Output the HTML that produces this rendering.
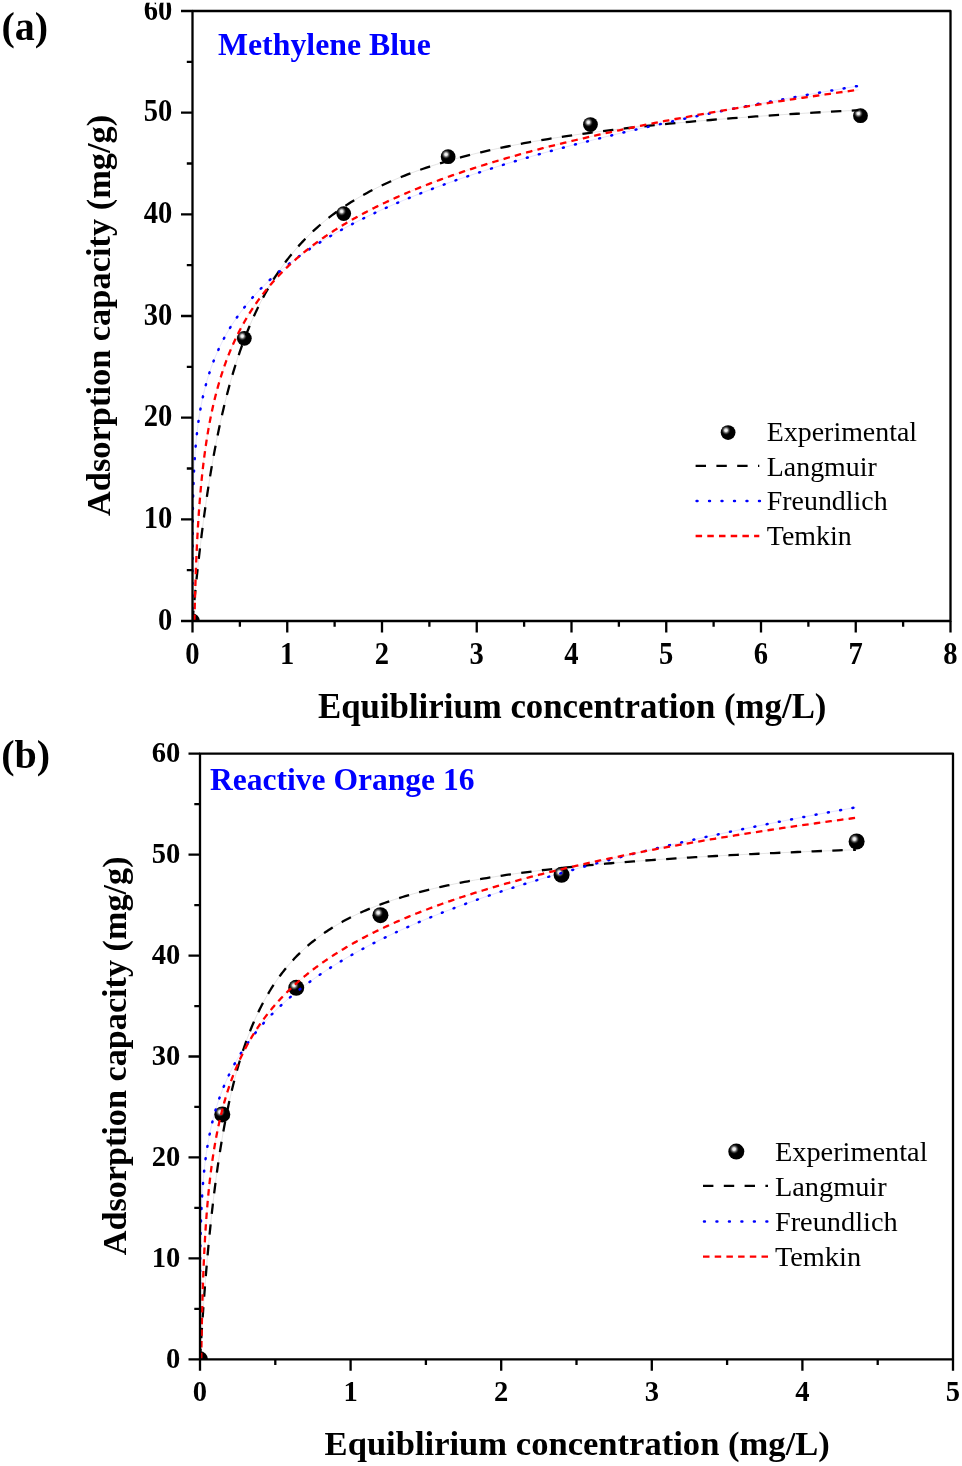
<!DOCTYPE html>
<html><head><meta charset="utf-8"><style>
html,body{margin:0;padding:0;background:#fff;}
svg{display:block;font-family:"Liberation Serif", serif;will-change:transform;}
</style></head><body>
<svg width="962" height="1466" viewBox="0 0 962 1466">
<defs>
<radialGradient id="hl" cx="0.5" cy="0.5" r="0.5">
<stop offset="0" stop-color="#fff" stop-opacity="1"/><stop offset="0.3" stop-color="#e8e8e8" stop-opacity="0.95"/><stop offset="0.65" stop-color="#808080" stop-opacity="0.5"/><stop offset="1" stop-color="#000" stop-opacity="0"/>
</radialGradient>
<g id="ball"><circle r="8" fill="#000"/><circle cx="-2.2" cy="-2.5" r="5.2" fill="url(#hl)"/></g>
<g id="balla"><circle r="7.4" fill="#000"/><circle cx="-2.1" cy="-2.3" r="4.9" fill="url(#hl)"/></g>
</defs>
<rect width="962" height="1466" fill="#fff"/>
<clipPath id="aclip"><rect x="192.5" y="11" width="758.0" height="610"/></clipPath>
<g clip-path="url(#aclip)" fill="none" stroke-linecap="butt"><path d="M192.51,620.89 L192.56,620.30 L192.62,619.68 L192.67,619.08 L192.73,618.46 L192.79,617.83 L192.84,617.21 L192.90,616.58 L192.96,615.93 L193.02,615.26 L193.08,614.59 L193.14,613.94 L193.20,613.33 L193.26,612.67 L193.32,611.96 L193.38,611.32 L193.45,610.63 L193.51,609.90 L193.57,609.27 L193.63,608.61 L193.70,607.92 L193.77,607.19 L193.84,606.42 L193.90,605.81 L193.96,605.18 L194.02,604.52 L194.09,603.84 L194.15,603.13 L194.22,602.39 L194.30,601.63 L194.37,600.83 L194.45,600.00 L194.54,599.14 L194.62,598.24 L194.69,597.63 L194.75,597.00 L194.81,596.35 L194.88,595.68 L194.94,595.00 L195.01,594.30 L195.08,593.58 L195.16,592.85 L195.23,592.09 L195.31,591.32 L195.39,590.52 L195.47,589.71 L195.55,588.88 L195.64,588.02 L195.73,587.15 L195.82,586.25 L195.91,585.33 L196.01,584.39 L196.11,583.42 L196.21,582.44 L196.32,581.42 L196.43,580.39 L196.54,579.32 L196.65,578.24 L196.77,577.12 L196.89,575.98 L197.01,574.82 L197.14,573.62 L197.21,573.02 L197.27,572.40 L197.34,571.78 L197.41,571.15 L197.48,570.52 L197.55,569.87 L197.62,569.22 L197.69,568.57 L197.76,567.90 L197.84,567.23 L197.91,566.55 L197.99,565.86 L198.06,565.16 L198.14,564.46 L198.22,563.75 L198.30,563.03 L198.38,562.30 L198.47,561.57 L198.55,560.82 L198.63,560.07 L198.72,559.31 L198.81,558.54 L198.90,557.77 L198.99,556.98 L199.08,556.19 L199.17,555.39 L199.26,554.58 L199.36,553.76 L199.46,552.93 L199.55,552.10 L199.65,551.25 L199.75,550.40 L199.85,549.53 L199.96,548.66 L200.06,547.78 L200.17,546.89 L200.28,545.99 L200.39,545.09 L200.50,544.17 L200.61,543.24 L200.72,542.31 L200.84,541.36 L200.96,540.41 L201.07,539.44 L201.20,538.47 L201.32,537.49 L201.44,536.50 L201.57,535.49 L201.69,534.48 L201.82,533.46 L201.95,532.43 L202.09,531.39 L202.22,530.34 L202.36,529.28 L202.50,528.21 L202.64,527.13 L202.78,526.03 L202.92,524.93 L203.07,523.82 L203.22,522.70 L203.37,521.57 L203.52,520.43 L203.68,519.28 L203.83,518.12 L203.99,516.95 L204.16,515.77 L204.32,514.58 L204.48,513.37 L204.65,512.16 L204.82,510.94 L205.00,509.71 L205.17,508.47 L205.35,507.21 L205.53,505.95 L205.71,504.68 L205.90,503.39 L206.09,502.10 L206.28,500.79 L206.47,499.48 L206.67,498.15 L206.87,496.82 L207.07,495.47 L207.27,494.12 L207.48,492.75 L207.69,491.38 L207.91,489.99 L208.12,488.59 L208.34,487.19 L208.56,485.77 L208.79,484.35 L209.02,482.91 L209.25,481.46 L209.49,480.01 L209.72,478.54 L209.97,477.06 L210.21,475.58 L210.46,474.08 L210.71,472.58 L210.97,471.06 L211.23,469.54 L211.49,468.00 L211.76,466.46 L212.03,464.91 L212.30,463.34 L212.58,461.77 L212.86,460.19 L213.15,458.60 L213.44,457.00 L213.73,455.39 L214.03,453.77 L214.34,452.15 L214.64,450.51 L214.95,448.87 L215.27,447.22 L215.59,445.56 L215.91,443.89 L216.24,442.21 L216.57,440.53 L216.91,438.83 L217.26,437.13 L217.60,435.42 L217.96,433.71 L218.31,431.98 L218.68,430.25 L219.04,428.51 L219.42,426.76 L219.80,425.01 L220.18,423.25 L220.57,421.48 L220.96,419.71 L221.36,417.93 L221.77,416.14 L222.18,414.35 L222.60,412.55 L223.02,410.74 L223.45,408.93 L223.88,407.11 L224.32,405.29 L224.77,403.46 L225.22,401.63 L225.68,399.79 L226.15,397.94 L226.62,396.09 L227.10,394.24 L227.59,392.38 L228.08,390.52 L228.58,388.65 L229.09,386.78 L229.60,384.91 L230.12,383.03 L230.65,381.15 L231.19,379.27 L231.73,377.38 L232.28,375.49 L232.84,373.60 L233.41,371.70 L233.98,369.80 L234.56,367.90 L235.16,366.00 L235.75,364.09 L236.36,362.19 L236.98,360.28 L237.60,358.37 L238.24,356.46 L238.88,354.55 L239.53,352.64 L240.19,350.73 L240.86,348.81 L241.54,346.90 L242.23,344.99 L242.93,343.07 L243.64,341.16 L244.36,339.25 L245.08,337.34 L245.82,335.43 L246.57,333.52 L247.33,331.61 L248.10,329.71 L248.88,327.80 L249.67,325.90 L250.48,324.00 L251.29,322.10 L252.12,320.20 L252.96,318.31 L253.81,316.42 L254.67,314.53 L255.54,312.64 L256.43,310.76 L257.32,308.88 L258.23,307.01 L259.16,305.14 L260.09,303.27 L261.04,301.41 L262.01,299.55 L262.98,297.70 L263.97,295.85 L264.98,294.00 L266.00,292.16 L267.03,290.33 L268.08,288.50 L269.14,286.68 L270.21,284.86 L271.31,283.04 L272.41,281.24 L273.53,279.44 L274.67,277.64 L275.83,275.85 L277.00,274.07 L278.19,272.30 L279.39,270.53 L280.61,268.77 L281.85,267.01 L283.10,265.26 L284.38,263.52 L285.67,261.79 L286.98,260.07 L288.30,258.35 L289.65,256.64 L291.01,254.93 L292.40,253.24 L293.80,251.55 L295.22,249.88 L296.67,248.21 L298.13,246.54 L299.61,244.89 L301.12,243.25 L302.64,241.61 L304.19,239.98 L305.76,238.36 L307.35,236.75 L308.97,235.15 L310.60,233.56 L312.26,231.98 L313.94,230.41 L315.65,228.84 L317.38,227.29 L319.13,225.74 L320.91,224.21 L322.72,222.68 L324.55,221.16 L326.40,219.66 L328.28,218.16 L330.19,216.67 L332.12,215.19 L334.09,213.73 L336.07,212.27 L338.09,210.82 L340.14,209.38 L342.21,207.95 L344.31,206.54 L346.45,205.13 L348.61,203.73 L350.80,202.34 L353.03,200.97 L355.28,199.60 L357.57,198.24 L359.89,196.89 L362.24,195.56 L364.62,194.23 L367.04,192.92 L369.49,191.61 L371.98,190.31 L374.50,189.03 L377.06,187.75 L379.65,186.49 L382.28,185.23 L384.95,183.99 L387.65,182.76 L390.39,181.53 L393.17,180.32 L395.99,179.12 L398.85,177.92 L401.75,176.74 L404.69,175.57 L407.67,174.40 L410.69,173.25 L413.76,172.11 L416.87,170.98 L420.02,169.86 L423.21,168.74 L426.46,167.64 L429.74,166.55 L433.07,165.47 L436.45,164.40 L439.88,163.33 L443.36,162.28 L446.88,161.24 L450.45,160.21 L454.08,159.18 L457.75,158.17 L461.48,157.17 L465.26,156.17 L469.09,155.19 L472.98,154.21 L476.92,153.25 L480.91,152.29 L484.96,151.35 L489.07,150.41 L493.24,149.48 L497.46,148.56 L501.75,147.65 L506.09,146.75 L510.50,145.86 L514.96,144.98 L519.50,144.11 L524.09,143.24 L528.75,142.39 L533.47,141.54 L538.26,140.70 L543.12,139.88 L548.04,139.05 L553.04,138.24 L558.10,137.44 L563.24,136.65 L568.45,135.86 L573.73,135.08 L579.09,134.31 L584.52,133.55 L590.02,132.80 L595.61,132.06 L601.27,131.32 L607.01,130.59 L612.84,129.87 L618.74,129.16 L624.73,128.45 L630.80,127.76 L636.96,127.07 L643.20,126.38 L649.54,125.71 L655.96,125.04 L662.47,124.39 L669.07,123.73 L675.76,123.09 L682.55,122.45 L689.44,121.82 L696.42,121.20 L703.50,120.58 L710.68,119.98 L717.96,119.38 L725.34,118.78 L732.82,118.19 L740.41,117.61 L748.11,117.04 L755.92,116.47 L763.83,115.91 L771.86,115.36 L780.00,114.81 L788.25,114.27 L796.62,113.73 L805.11,113.20 L813.71,112.68 L822.44,112.16 L831.29,111.65 L840.26,111.15 L849.36,110.65 L858.59,110.16" stroke="#d8d8d8" stroke-width="0.7"/><path d="M192.50,608.79 L192.50,608.13 L192.50,607.51 L192.50,606.86 L192.50,606.25 L192.50,605.60 L192.50,604.94 L192.50,604.32 L192.50,603.67 L192.50,603.01 L192.50,602.40 L192.50,601.78 L192.50,601.13 L192.50,600.46 L192.50,599.77 L192.50,599.16 L192.50,598.53 L192.50,597.89 L192.50,597.22 L192.50,596.54 L192.50,595.83 L192.50,595.23 L192.50,594.62 L192.50,593.99 L192.50,593.34 L192.50,592.68 L192.50,592.00 L192.50,591.31 L192.50,590.60 L192.50,589.87 L192.50,589.13 L192.50,588.52 L192.50,587.90 L192.50,587.27 L192.50,586.63 L192.50,585.97 L192.50,585.30 L192.50,584.62 L192.50,583.93 L192.50,583.22 L192.50,582.50 L192.50,581.76 L192.50,581.02 L192.50,580.25 L192.50,579.48 L192.50,578.68 L192.50,578.08 L192.50,577.47 L192.50,576.84 L192.50,576.21 L192.51,575.57 L192.51,574.93 L192.51,574.27 L192.51,573.60 L192.51,572.92 L192.51,572.24 L192.51,571.54 L192.51,570.84 L192.51,570.12 L192.51,569.39 L192.51,568.66 L192.51,567.91 L192.51,567.15 L192.51,566.38 L192.51,565.60 L192.51,564.81 L192.51,564.01 L192.52,563.20 L192.52,562.37 L192.52,561.54 L192.52,560.69 L192.52,559.83 L192.52,558.95 L192.52,558.07 L192.53,557.17 L192.53,556.56 L192.53,555.95 L192.53,555.33 L192.53,554.71 L192.53,554.08 L192.53,553.44 L192.54,552.80 L192.54,552.16 L192.54,551.50 L192.54,550.84 L192.54,550.18 L192.54,549.50 L192.55,548.82 L192.55,548.14 L192.55,547.45 L192.55,546.75 L192.56,546.04 L192.56,545.33 L192.56,544.61 L192.56,543.89 L192.57,543.16 L192.57,542.42 L192.57,541.67 L192.58,540.92 L192.58,540.16 L192.58,539.39 L192.59,538.62 L192.59,537.83 L192.60,537.04 L192.60,536.25 L192.60,535.44 L192.61,534.63 L192.61,533.81 L192.62,532.98 L192.62,532.15 L192.63,531.30 L192.64,530.45 L192.64,529.59 L192.65,528.72 L192.66,527.85 L192.66,526.96 L192.67,526.07 L192.68,525.17 L192.69,524.26 L192.70,523.34 L192.71,522.41 L192.71,521.48 L192.72,520.53 L192.73,519.58 L192.75,518.61 L192.76,517.64 L192.77,516.66 L192.78,515.67 L192.79,514.67 L192.81,513.66 L192.82,512.64 L192.84,511.61 L192.85,510.57 L192.87,509.53 L192.89,508.47 L192.90,507.40 L192.92,506.32 L192.94,505.23 L192.96,504.13 L192.98,503.02 L193.01,501.90 L193.03,500.77 L193.05,499.63 L193.08,498.48 L193.11,497.32 L193.13,496.14 L193.16,494.96 L193.19,493.76 L193.21,493.16 L193.23,492.55 L193.24,491.94 L193.26,491.33 L193.28,490.72 L193.30,490.10 L193.31,489.48 L193.33,488.86 L193.35,488.23 L193.37,487.60 L193.39,486.97 L193.41,486.34 L193.43,485.70 L193.45,485.06 L193.47,484.41 L193.50,483.77 L193.52,483.12 L193.54,482.46 L193.57,481.81 L193.59,481.15 L193.62,480.49 L193.64,479.82 L193.67,479.15 L193.69,478.48 L193.72,477.81 L193.75,477.13 L193.78,476.45 L193.81,475.76 L193.84,475.07 L193.87,474.38 L193.90,473.69 L193.93,472.99 L193.96,472.29 L194.00,471.58 L194.03,470.88 L194.07,470.17 L194.10,469.45 L194.14,468.73 L194.18,468.01 L194.21,467.29 L194.25,466.56 L194.29,465.83 L194.33,465.09 L194.38,464.36 L194.42,463.61 L194.46,462.87 L194.51,462.12 L194.55,461.37 L194.60,460.61 L194.65,459.85 L194.70,459.09 L194.75,458.32 L194.80,457.55 L194.85,456.78 L194.91,456.00 L194.96,455.22 L195.02,454.43 L195.07,453.64 L195.13,452.85 L195.19,452.05 L195.25,451.25 L195.32,450.45 L195.38,449.64 L195.45,448.83 L195.51,448.02 L195.58,447.20 L195.65,446.37 L195.73,445.55 L195.80,444.72 L195.88,443.88 L195.95,443.04 L196.03,442.20 L196.11,441.35 L196.19,440.50 L196.28,439.65 L196.37,438.79 L196.45,437.92 L196.54,437.06 L196.64,436.19 L196.73,435.31 L196.83,434.43 L196.93,433.55 L197.03,432.66 L197.13,431.77 L197.24,430.87 L197.34,429.97 L197.46,429.07 L197.57,428.16 L197.68,427.24 L197.80,426.33 L197.92,425.40 L198.05,424.48 L198.17,423.55 L198.30,422.61 L198.44,421.67 L198.57,420.73 L198.71,419.78 L198.85,418.83 L199.00,417.87 L199.15,416.91 L199.30,415.94 L199.45,414.97 L199.61,413.99 L199.77,413.01 L199.94,412.03 L200.11,411.04 L200.28,410.04 L200.46,409.05 L200.64,408.04 L200.83,407.03 L201.02,406.02 L201.21,405.00 L201.41,403.98 L201.62,402.95 L201.83,401.92 L202.04,400.88 L202.26,399.84 L202.48,398.79 L202.71,397.74 L202.94,396.68 L203.18,395.62 L203.42,394.55 L203.67,393.48 L203.93,392.40 L204.19,391.32 L204.46,390.23 L204.73,389.14 L205.01,388.04 L205.29,386.94 L205.59,385.83 L205.89,384.71 L206.19,383.60 L206.50,382.47 L206.82,381.34 L207.15,380.21 L207.49,379.07 L207.83,377.92 L208.18,376.77 L208.54,375.61 L208.90,374.45 L209.28,373.28 L209.66,372.11 L210.05,370.93 L210.45,369.75 L210.86,368.56 L211.28,367.36 L211.71,366.16 L212.15,364.95 L212.60,363.74 L213.06,362.52 L213.53,361.30 L214.01,360.07 L214.50,358.83 L215.00,357.59 L215.52,356.34 L216.04,355.09 L216.58,353.83 L217.13,352.56 L217.69,351.29 L218.27,350.02 L218.86,348.73 L219.46,347.44 L220.07,346.15 L220.70,344.85 L221.35,343.54 L222.01,342.22 L222.68,340.90 L223.37,339.58 L224.08,338.24 L224.80,336.90 L225.54,335.56 L226.29,334.21 L227.06,332.85 L227.85,331.48 L228.66,330.11 L229.48,328.74 L230.33,327.35 L231.19,325.96 L232.08,324.56 L232.98,323.16 L233.91,321.75 L234.85,320.33 L235.82,318.91 L236.81,317.48 L237.82,316.04 L238.86,314.59 L239.92,313.14 L241.00,311.69 L242.11,310.22 L243.24,308.75 L244.40,307.27 L245.58,305.78 L246.80,304.29 L248.04,302.79 L249.31,301.28 L250.60,299.77 L251.93,298.25 L253.29,296.72 L254.68,295.18 L256.10,293.64 L257.55,292.09 L259.03,290.53 L260.55,288.97 L262.11,287.40 L263.70,285.82 L265.33,284.23 L266.99,282.63 L268.69,281.03 L270.43,279.42 L272.21,277.80 L274.03,276.18 L275.89,274.54 L277.80,272.90 L279.75,271.25 L281.74,269.60 L283.78,267.93 L285.86,266.26 L288.00,264.58 L290.18,262.89 L292.41,261.20 L294.69,259.49 L297.03,257.78 L299.41,256.06 L301.86,254.33 L304.35,252.60 L306.91,250.85 L309.52,249.10 L312.19,247.34 L314.93,245.57 L317.73,243.79 L320.59,242.00 L323.51,240.21 L326.50,238.41 L329.56,236.59 L332.70,234.77 L335.90,232.94 L339.17,231.11 L342.52,229.26 L345.95,227.40 L349.46,225.54 L353.04,223.67 L356.71,221.78 L360.46,219.89 L364.30,217.99 L368.22,216.09 L372.23,214.17 L376.34,212.24 L380.54,210.31 L384.83,208.36 L389.23,206.41 L393.72,204.44 L398.32,202.47 L403.02,200.49 L407.83,198.50 L412.75,196.50 L417.78,194.48 L422.92,192.46 L428.19,190.44 L433.57,188.40 L439.08,186.35 L444.71,184.29 L450.47,182.22 L456.36,180.14 L462.39,178.05 L468.55,175.96 L474.86,173.85 L481.31,171.73 L487.91,169.60 L494.66,167.47 L501.56,165.32 L508.62,163.16 L515.84,160.99 L523.22,158.81 L530.78,156.62 L538.51,154.42 L546.41,152.21 L554.49,149.99 L562.76,147.76 L571.22,145.52 L579.87,143.27 L588.72,141.01 L597.77,138.73 L607.03,136.45 L616.49,134.16 L626.18,131.85 L636.09,129.53 L646.22,127.21 L656.58,124.87 L667.18,122.52 L678.03,120.16 L689.12,117.78 L700.46,115.40 L712.06,113.01 L723.93,110.60 L736.07,108.18 L748.49,105.75 L761.19,103.31 L774.18,100.86 L787.46,98.40 L801.05,95.92 L814.96,93.44 L829.17,90.94 L843.72,88.43 L858.59,85.91" stroke="#d8d8ff" stroke-width="0.7"/><path d="M194.43,621.00 L194.45,620.34 L194.46,619.67 L194.48,619.01 L194.49,618.34 L194.51,617.68 L194.52,617.02 L194.54,616.35 L194.55,615.69 L194.57,615.02 L194.58,614.36 L194.60,613.70 L194.61,613.03 L194.63,612.37 L194.64,611.70 L194.66,611.04 L194.67,610.38 L194.69,609.71 L194.71,609.05 L194.72,608.38 L194.74,607.72 L194.75,607.06 L194.77,606.39 L194.79,605.73 L194.80,605.06 L194.82,604.40 L194.84,603.74 L194.86,603.07 L194.87,602.41 L194.89,601.74 L194.91,601.08 L194.92,600.42 L194.94,599.75 L194.96,599.09 L194.98,598.42 L195.00,597.76 L195.02,597.10 L195.03,596.43 L195.05,595.77 L195.07,595.10 L195.09,594.44 L195.11,593.78 L195.13,593.11 L195.15,592.45 L195.17,591.78 L195.19,591.12 L195.21,590.45 L195.23,589.79 L195.25,589.13 L195.27,588.46 L195.29,587.80 L195.31,587.13 L195.33,586.47 L195.35,585.81 L195.37,585.14 L195.39,584.48 L195.41,583.81 L195.43,583.15 L195.45,582.49 L195.48,581.82 L195.50,581.16 L195.52,580.49 L195.54,579.83 L195.56,579.17 L195.59,578.50 L195.61,577.84 L195.63,577.17 L195.65,576.51 L195.68,575.85 L195.70,575.18 L195.72,574.52 L195.75,573.85 L195.77,573.19 L195.80,572.53 L195.82,571.86 L195.84,571.20 L195.87,570.53 L195.89,569.87 L195.92,569.21 L195.94,568.54 L195.97,567.88 L195.99,567.21 L196.02,566.55 L196.04,565.89 L196.07,565.22 L196.10,564.56 L196.12,563.89 L196.15,563.23 L196.18,562.57 L196.20,561.90 L196.23,561.24 L196.26,560.57 L196.29,559.91 L196.31,559.25 L196.34,558.58 L196.37,557.92 L196.40,557.25 L196.43,556.59 L196.46,555.93 L196.48,555.26 L196.51,554.60 L196.54,553.93 L196.57,553.27 L196.60,552.61 L196.63,551.94 L196.66,551.28 L196.69,550.61 L196.72,549.95 L196.75,549.29 L196.79,548.62 L196.82,547.96 L196.85,547.29 L196.88,546.63 L196.91,545.97 L196.95,545.30 L196.98,544.64 L197.01,543.97 L197.04,543.31 L197.08,542.65 L197.11,541.98 L197.14,541.32 L197.18,540.65 L197.21,539.99 L197.25,539.33 L197.28,538.66 L197.32,538.00 L197.35,537.33 L197.39,536.67 L197.42,536.01 L197.46,535.34 L197.50,534.68 L197.53,534.01 L197.57,533.35 L197.61,532.69 L197.64,532.02 L197.68,531.36 L197.72,530.69 L197.76,530.03 L197.80,529.36 L197.84,528.70 L197.88,528.04 L197.91,527.37 L197.95,526.71 L197.99,526.04 L198.03,525.38 L198.07,524.72 L198.12,524.05 L198.16,523.39 L198.20,522.72 L198.24,522.06 L198.28,521.40 L198.32,520.73 L198.37,520.07 L198.41,519.40 L198.45,518.74 L198.50,518.08 L198.54,517.41 L198.59,516.75 L198.63,516.08 L198.68,515.42 L198.72,514.76 L198.77,514.09 L198.81,513.43 L198.86,512.76 L198.90,512.10 L198.95,511.44 L199.00,510.77 L199.05,510.11 L199.09,509.44 L199.14,508.78 L199.19,508.12 L199.24,507.45 L199.29,506.79 L199.34,506.12 L199.39,505.46 L199.44,504.80 L199.49,504.13 L199.54,503.47 L199.59,502.80 L199.65,502.14 L199.70,501.48 L199.75,500.81 L199.80,500.15 L199.86,499.48 L199.91,498.82 L199.97,498.16 L200.02,497.49 L200.08,496.83 L200.13,496.16 L200.19,495.50 L200.24,494.84 L200.30,494.17 L200.36,493.51 L200.42,492.84 L200.47,492.18 L200.53,491.52 L200.59,490.85 L200.65,490.19 L200.71,489.52 L200.77,488.86 L200.83,488.20 L200.89,487.53 L200.95,486.87 L201.02,486.20 L201.08,485.54 L201.14,484.88 L201.20,484.21 L201.27,483.55 L201.33,482.88 L201.40,482.22 L201.46,481.56 L201.53,480.89 L201.59,480.23 L201.66,479.56 L201.73,478.90 L201.79,478.24 L201.86,477.57 L201.93,476.91 L202.00,476.24 L202.07,475.58 L202.14,474.92 L202.21,474.25 L202.28,473.59 L202.35,472.92 L202.43,472.26 L202.50,471.60 L202.57,470.93 L202.65,470.27 L202.72,469.60 L202.80,468.94 L202.87,468.27 L202.95,467.61 L203.02,466.95 L203.10,466.28 L203.18,465.62 L203.26,464.95 L203.34,464.29 L203.41,463.63 L203.49,462.96 L203.58,462.30 L203.66,461.63 L203.74,460.97 L203.82,460.31 L203.90,459.64 L203.99,458.98 L204.07,458.31 L204.16,457.65 L204.24,456.99 L204.33,456.32 L204.41,455.66 L204.50,454.99 L204.59,454.33 L204.68,453.67 L204.77,453.00 L204.86,452.34 L204.95,451.67 L205.04,451.01 L205.13,450.35 L205.22,449.68 L205.32,449.02 L205.41,448.35 L205.51,447.69 L205.60,447.03 L205.70,446.36 L205.79,445.70 L205.89,445.03 L205.99,444.37 L206.09,443.71 L206.19,443.04 L206.29,442.38 L206.39,441.71 L206.49,441.05 L206.59,440.39 L206.70,439.72 L206.80,439.06 L206.91,438.39 L207.01,437.73 L207.12,437.07 L207.22,436.40 L207.33,435.74 L207.44,435.07 L207.55,434.41 L207.66,433.75 L207.77,433.08 L207.88,432.42 L208.00,431.75 L208.11,431.09 L208.22,430.43 L208.34,429.76 L208.46,429.10 L208.57,428.43 L208.69,427.77 L208.81,427.11 L208.93,426.44 L209.05,425.78 L209.17,425.11 L209.29,424.45 L209.42,423.79 L209.54,423.12 L209.66,422.46 L209.79,421.79 L209.92,421.13 L210.05,420.47 L210.17,419.80 L210.30,419.14 L210.43,418.47 L210.57,417.81 L210.70,417.15 L210.83,416.48 L210.97,415.82 L211.10,415.15 L211.24,414.49 L211.37,413.83 L211.51,413.16 L211.65,412.50 L211.79,411.83 L211.93,411.17 L212.08,410.51 L212.22,409.84 L212.36,409.18 L212.51,408.51 L212.66,407.85 L212.80,407.18 L212.95,406.52 L213.10,405.86 L213.25,405.19 L213.41,404.53 L213.56,403.86 L213.71,403.20 L213.87,402.54 L214.03,401.87 L214.18,401.21 L214.34,400.54 L214.50,399.88 L214.66,399.22 L214.83,398.55 L214.99,397.89 L215.15,397.22 L215.32,396.56 L215.49,395.90 L215.66,395.23 L215.83,394.57 L216.00,393.90 L216.17,393.24 L216.34,392.58 L216.52,391.91 L216.69,391.25 L216.87,390.58 L217.05,389.92 L217.23,389.26 L217.41,388.59 L217.59,387.93 L217.78,387.26 L217.96,386.60 L218.15,385.94 L218.34,385.27 L218.53,384.61 L218.72,383.94 L218.91,383.28 L219.10,382.62 L219.30,381.95 L219.49,381.29 L219.69,380.62 L219.89,379.96 L220.09,379.30 L220.29,378.63 L220.50,377.97 L220.70,377.30 L220.91,376.64 L221.12,375.98 L221.33,375.31 L221.54,374.65 L221.75,373.98 L221.97,373.32 L222.18,372.66 L222.40,371.99 L222.62,371.33 L222.84,370.66 L223.06,370.00 L223.29,369.34 L223.51,368.67 L223.74,368.01 L223.97,367.34 L224.20,366.68 L224.43,366.02 L224.67,365.35 L224.90,364.69 L225.14,364.02 L225.38,363.36 L225.62,362.70 L225.86,362.03 L226.11,361.37 L226.35,360.70 L226.60,360.04 L226.85,359.38 L227.10,358.71 L227.36,358.05 L227.61,357.38 L227.87,356.72 L228.13,356.06 L228.39,355.39 L228.65,354.73 L228.92,354.06 L229.18,353.40 L229.45,352.74 L229.72,352.07 L230.00,351.41 L230.27,350.74 L230.55,350.08 L230.83,349.42 L231.11,348.75 L231.39,348.09 L231.68,347.42 L231.96,346.76 L232.25,346.09 L232.54,345.43 L232.84,344.77 L233.13,344.10 L233.43,343.44 L233.73,342.77 L234.03,342.11 L234.34,341.45 L234.64,340.78 L234.95,340.12 L235.26,339.45 L235.58,338.79 L235.89,338.13 L236.21,337.46 L236.53,336.80 L236.85,336.13 L237.18,335.47 L237.51,334.81 L237.84,334.14 L238.17,333.48 L238.50,332.81 L238.84,332.15 L239.18,331.49 L239.52,330.82 L239.87,330.16 L240.21,329.49 L240.56,328.83 L240.92,328.17 L241.27,327.50 L241.63,326.84 L241.99,326.17 L242.35,325.51 L242.72,324.85 L243.08,324.18 L243.46,323.52 L243.83,322.85 L244.20,322.19 L244.58,321.53 L244.97,320.86 L245.35,320.20 L245.74,319.53 L246.13,318.87 L246.52,318.21 L246.92,317.54 L247.32,316.88 L247.72,316.21 L248.12,315.55 L248.53,314.89 L248.94,314.22 L249.35,313.56 L249.77,312.89 L250.19,312.23 L250.61,311.57 L251.04,310.90 L251.47,310.24 L251.90,309.57 L252.34,308.91 L252.77,308.25 L253.22,307.58 L253.66,306.92 L254.11,306.25 L254.56,305.59 L255.02,304.93 L255.47,304.26 L255.94,303.60 L256.40,302.93 L256.87,302.27 L257.34,301.61 L257.82,300.94 L258.29,300.28 L258.78,299.61 L259.26,298.95 L259.75,298.29 L260.24,297.62 L260.74,296.96 L261.24,296.29 L261.74,295.63 L262.25,294.97 L262.76,294.30 L263.28,293.64 L263.80,292.97 L264.32,292.31 L264.85,291.65 L265.38,290.98 L265.91,290.32 L266.45,289.65 L266.99,288.99 L267.54,288.32 L268.09,287.66 L268.64,287.00 L269.20,286.33 L269.76,285.67 L270.33,285.00 L270.90,284.34 L271.47,283.68 L272.05,283.01 L272.63,282.35 L273.22,281.68 L273.81,281.02 L274.41,280.36 L275.01,279.69 L275.61,279.03 L276.22,278.36 L276.84,277.70 L277.45,277.04 L278.08,276.37 L278.70,275.71 L279.34,275.04 L279.97,274.38 L280.61,273.72 L281.26,273.05 L281.91,272.39 L282.57,271.72 L283.23,271.06 L283.89,270.40 L284.56,269.73 L285.24,269.07 L285.92,268.40 L286.60,267.74 L287.29,267.08 L287.98,266.41 L288.68,265.75 L289.39,265.08 L290.10,264.42 L290.81,263.76 L291.54,263.09 L292.26,262.43 L292.99,261.76 L293.73,261.10 L294.47,260.44 L295.22,259.77 L295.97,259.11 L296.73,258.44 L297.49,257.78 L298.26,257.12 L299.04,256.45 L299.82,255.79 L300.61,255.12 L301.40,254.46 L302.20,253.80 L303.00,253.13 L303.81,252.47 L304.63,251.80 L305.45,251.14 L306.27,250.48 L307.11,249.81 L307.95,249.15 L308.79,248.48 L309.65,247.82 L310.51,247.16 L311.37,246.49 L312.24,245.83 L313.12,245.16 L314.00,244.50 L314.89,243.84 L315.79,243.17 L316.69,242.51 L317.61,241.84 L318.52,241.18 L319.45,240.52 L320.38,239.85 L321.31,239.19 L322.26,238.52 L323.21,237.86 L324.17,237.20 L325.13,236.53 L326.10,235.87 L327.08,235.20 L328.07,234.54 L329.06,233.88 L330.06,233.21 L331.07,232.55 L332.09,231.88 L333.11,231.22 L334.14,230.56 L335.18,229.89 L336.22,229.23 L337.28,228.56 L338.34,227.90 L339.41,227.23 L340.49,226.57 L341.57,225.91 L342.66,225.24 L343.76,224.58 L344.87,223.91 L345.99,223.25 L347.11,222.59 L348.25,221.92 L349.39,221.26 L350.54,220.59 L351.70,219.93 L352.86,219.27 L354.04,218.60 L355.22,217.94 L356.41,217.27 L357.62,216.61 L358.83,215.95 L360.05,215.28 L361.27,214.62 L362.51,213.95 L363.76,213.29 L365.01,212.63 L366.28,211.96 L367.55,211.30 L368.83,210.63 L370.12,209.97 L371.43,209.31 L372.74,208.64 L374.06,207.98 L375.39,207.31 L376.73,206.65 L378.08,205.99 L379.44,205.32 L380.81,204.66 L382.19,203.99 L383.58,203.33 L384.98,202.67 L386.39,202.00 L387.81,201.34 L389.25,200.67 L390.69,200.01 L392.14,199.35 L393.60,198.68 L395.08,198.02 L396.56,197.35 L398.06,196.69 L399.56,196.03 L401.08,195.36 L402.61,194.70 L404.15,194.03 L405.70,193.37 L407.26,192.71 L408.84,192.04 L410.42,191.38 L412.02,190.71 L413.63,190.05 L415.25,189.39 L416.88,188.72 L418.53,188.06 L420.18,187.39 L421.85,186.73 L423.53,186.07 L425.23,185.40 L426.93,184.74 L428.65,184.07 L430.38,183.41 L432.13,182.75 L433.88,182.08 L435.65,181.42 L437.43,180.75 L439.23,180.09 L441.04,179.43 L442.86,178.76 L444.69,178.10 L446.54,177.43 L448.40,176.77 L450.28,176.11 L452.17,175.44 L454.07,174.78 L455.99,174.11 L457.92,173.45 L459.87,172.79 L461.82,172.12 L463.80,171.46 L465.79,170.79 L467.79,170.13 L469.81,169.47 L471.84,168.80 L473.89,168.14 L475.95,167.47 L478.03,166.81 L480.12,166.14 L482.23,165.48 L484.35,164.82 L486.49,164.15 L488.65,163.49 L490.82,162.82 L493.00,162.16 L495.20,161.50 L497.42,160.83 L499.66,160.17 L501.91,159.50 L504.18,158.84 L506.46,158.18 L508.76,157.51 L511.08,156.85 L513.42,156.18 L515.77,155.52 L518.14,154.86 L520.52,154.19 L522.93,153.53 L525.35,152.86 L527.79,152.20 L530.25,151.54 L532.72,150.87 L535.22,150.21 L537.73,149.54 L540.26,148.88 L542.81,148.22 L545.37,147.55 L547.96,146.89 L550.57,146.22 L553.19,145.56 L555.83,144.90 L558.50,144.23 L561.18,143.57 L563.88,142.90 L566.60,142.24 L569.34,141.58 L572.11,140.91 L574.89,140.25 L577.69,139.58 L580.51,138.92 L583.36,138.26 L586.22,137.59 L589.11,136.93 L592.02,136.26 L594.94,135.60 L597.89,134.94 L600.86,134.27 L603.86,133.61 L606.87,132.94 L609.91,132.28 L612.97,131.62 L616.05,130.95 L619.15,130.29 L622.28,129.62 L625.43,128.96 L628.61,128.30 L631.80,127.63 L635.02,126.97 L638.26,126.30 L641.53,125.64 L644.82,124.98 L648.14,124.31 L651.48,123.65 L654.84,122.98 L658.23,122.32 L661.64,121.66 L665.08,120.99 L668.55,120.33 L672.03,119.66 L675.55,119.00 L679.09,118.34 L682.66,117.67 L686.25,117.01 L689.87,116.34 L693.51,115.68 L697.18,115.02 L700.88,114.35 L704.61,113.69 L708.36,113.02 L712.14,112.36 L715.95,111.70 L719.79,111.03 L723.65,110.37 L727.55,109.70 L731.47,109.04 L735.42,108.38 L739.40,107.71 L743.41,107.05 L747.44,106.38 L751.51,105.72 L755.61,105.05 L759.73,104.39 L763.89,103.73 L768.08,103.06 L772.30,102.40 L776.55,101.73 L780.83,101.07 L785.14,100.41 L789.48,99.74 L793.86,99.08 L798.27,98.41 L802.71,97.75 L807.18,97.09 L811.68,96.42 L816.22,95.76 L820.79,95.09 L825.40,94.43 L830.04,93.77 L834.71,93.10 L839.42,92.44 L844.16,91.77 L848.93,91.11 L853.75,90.45 L858.59,89.78" stroke="#ffd8d8" stroke-width="0.7"/></g>
<g clip-path="url(#aclip)"><use href="#balla" x="192.50" y="621.00"/><use href="#balla" x="244.33" y="338.37"/><use href="#balla" x="343.72" y="213.62"/><use href="#balla" x="448.14" y="156.69"/><use href="#balla" x="590.45" y="124.56"/><use href="#balla" x="860.49" y="115.72"/></g>
<g clip-path="url(#aclip)" fill="none" stroke-linecap="butt"><path d="M192.51,620.89 L192.56,620.30 L192.62,619.68 L192.67,619.08 L192.73,618.46 L192.79,617.83 L192.84,617.21 L192.90,616.58 L192.96,615.93 L193.02,615.26 L193.08,614.59 L193.14,613.94 L193.20,613.33 L193.26,612.67 L193.32,611.96 L193.38,611.32 L193.45,610.63 L193.51,609.90 L193.57,609.27 L193.63,608.61 L193.70,607.92 L193.77,607.19 L193.84,606.42 L193.90,605.81 L193.96,605.18 L194.02,604.52 L194.09,603.84 L194.15,603.13 L194.22,602.39 L194.30,601.63 L194.37,600.83 L194.45,600.00 L194.54,599.14 L194.62,598.24 L194.69,597.63 L194.75,597.00 L194.81,596.35 L194.88,595.68 L194.94,595.00 L195.01,594.30 L195.08,593.58 L195.16,592.85 L195.23,592.09 L195.31,591.32 L195.39,590.52 L195.47,589.71 L195.55,588.88 L195.64,588.02 L195.73,587.15 L195.82,586.25 L195.91,585.33 L196.01,584.39 L196.11,583.42 L196.21,582.44 L196.32,581.42 L196.43,580.39 L196.54,579.32 L196.65,578.24 L196.77,577.12 L196.89,575.98 L197.01,574.82 L197.14,573.62 L197.21,573.02 L197.27,572.40 L197.34,571.78 L197.41,571.15 L197.48,570.52 L197.55,569.87 L197.62,569.22 L197.69,568.57 L197.76,567.90 L197.84,567.23 L197.91,566.55 L197.99,565.86 L198.06,565.16 L198.14,564.46 L198.22,563.75 L198.30,563.03 L198.38,562.30 L198.47,561.57 L198.55,560.82 L198.63,560.07 L198.72,559.31 L198.81,558.54 L198.90,557.77 L198.99,556.98 L199.08,556.19 L199.17,555.39 L199.26,554.58 L199.36,553.76 L199.46,552.93 L199.55,552.10 L199.65,551.25 L199.75,550.40 L199.85,549.53 L199.96,548.66 L200.06,547.78 L200.17,546.89 L200.28,545.99 L200.39,545.09 L200.50,544.17 L200.61,543.24 L200.72,542.31 L200.84,541.36 L200.96,540.41 L201.07,539.44 L201.20,538.47 L201.32,537.49 L201.44,536.50 L201.57,535.49 L201.69,534.48 L201.82,533.46 L201.95,532.43 L202.09,531.39 L202.22,530.34 L202.36,529.28 L202.50,528.21 L202.64,527.13 L202.78,526.03 L202.92,524.93 L203.07,523.82 L203.22,522.70 L203.37,521.57 L203.52,520.43 L203.68,519.28 L203.83,518.12 L203.99,516.95 L204.16,515.77 L204.32,514.58 L204.48,513.37 L204.65,512.16 L204.82,510.94 L205.00,509.71 L205.17,508.47 L205.35,507.21 L205.53,505.95 L205.71,504.68 L205.90,503.39 L206.09,502.10 L206.28,500.79 L206.47,499.48 L206.67,498.15 L206.87,496.82 L207.07,495.47 L207.27,494.12 L207.48,492.75 L207.69,491.38 L207.91,489.99 L208.12,488.59 L208.34,487.19 L208.56,485.77 L208.79,484.35 L209.02,482.91 L209.25,481.46 L209.49,480.01 L209.72,478.54 L209.97,477.06 L210.21,475.58 L210.46,474.08 L210.71,472.58 L210.97,471.06 L211.23,469.54 L211.49,468.00 L211.76,466.46 L212.03,464.91 L212.30,463.34 L212.58,461.77 L212.86,460.19 L213.15,458.60 L213.44,457.00 L213.73,455.39 L214.03,453.77 L214.34,452.15 L214.64,450.51 L214.95,448.87 L215.27,447.22 L215.59,445.56 L215.91,443.89 L216.24,442.21 L216.57,440.53 L216.91,438.83 L217.26,437.13 L217.60,435.42 L217.96,433.71 L218.31,431.98 L218.68,430.25 L219.04,428.51 L219.42,426.76 L219.80,425.01 L220.18,423.25 L220.57,421.48 L220.96,419.71 L221.36,417.93 L221.77,416.14 L222.18,414.35 L222.60,412.55 L223.02,410.74 L223.45,408.93 L223.88,407.11 L224.32,405.29 L224.77,403.46 L225.22,401.63 L225.68,399.79 L226.15,397.94 L226.62,396.09 L227.10,394.24 L227.59,392.38 L228.08,390.52 L228.58,388.65 L229.09,386.78 L229.60,384.91 L230.12,383.03 L230.65,381.15 L231.19,379.27 L231.73,377.38 L232.28,375.49 L232.84,373.60 L233.41,371.70 L233.98,369.80 L234.56,367.90 L235.16,366.00 L235.75,364.09 L236.36,362.19 L236.98,360.28 L237.60,358.37 L238.24,356.46 L238.88,354.55 L239.53,352.64 L240.19,350.73 L240.86,348.81 L241.54,346.90 L242.23,344.99 L242.93,343.07 L243.64,341.16 L244.36,339.25 L245.08,337.34 L245.82,335.43 L246.57,333.52 L247.33,331.61 L248.10,329.71 L248.88,327.80 L249.67,325.90 L250.48,324.00 L251.29,322.10 L252.12,320.20 L252.96,318.31 L253.81,316.42 L254.67,314.53 L255.54,312.64 L256.43,310.76 L257.32,308.88 L258.23,307.01 L259.16,305.14 L260.09,303.27 L261.04,301.41 L262.01,299.55 L262.98,297.70 L263.97,295.85 L264.98,294.00 L266.00,292.16 L267.03,290.33 L268.08,288.50 L269.14,286.68 L270.21,284.86 L271.31,283.04 L272.41,281.24 L273.53,279.44 L274.67,277.64 L275.83,275.85 L277.00,274.07 L278.19,272.30 L279.39,270.53 L280.61,268.77 L281.85,267.01 L283.10,265.26 L284.38,263.52 L285.67,261.79 L286.98,260.07 L288.30,258.35 L289.65,256.64 L291.01,254.93 L292.40,253.24 L293.80,251.55 L295.22,249.88 L296.67,248.21 L298.13,246.54 L299.61,244.89 L301.12,243.25 L302.64,241.61 L304.19,239.98 L305.76,238.36 L307.35,236.75 L308.97,235.15 L310.60,233.56 L312.26,231.98 L313.94,230.41 L315.65,228.84 L317.38,227.29 L319.13,225.74 L320.91,224.21 L322.72,222.68 L324.55,221.16 L326.40,219.66 L328.28,218.16 L330.19,216.67 L332.12,215.19 L334.09,213.73 L336.07,212.27 L338.09,210.82 L340.14,209.38 L342.21,207.95 L344.31,206.54 L346.45,205.13 L348.61,203.73 L350.80,202.34 L353.03,200.97 L355.28,199.60 L357.57,198.24 L359.89,196.89 L362.24,195.56 L364.62,194.23 L367.04,192.92 L369.49,191.61 L371.98,190.31 L374.50,189.03 L377.06,187.75 L379.65,186.49 L382.28,185.23 L384.95,183.99 L387.65,182.76 L390.39,181.53 L393.17,180.32 L395.99,179.12 L398.85,177.92 L401.75,176.74 L404.69,175.57 L407.67,174.40 L410.69,173.25 L413.76,172.11 L416.87,170.98 L420.02,169.86 L423.21,168.74 L426.46,167.64 L429.74,166.55 L433.07,165.47 L436.45,164.40 L439.88,163.33 L443.36,162.28 L446.88,161.24 L450.45,160.21 L454.08,159.18 L457.75,158.17 L461.48,157.17 L465.26,156.17 L469.09,155.19 L472.98,154.21 L476.92,153.25 L480.91,152.29 L484.96,151.35 L489.07,150.41 L493.24,149.48 L497.46,148.56 L501.75,147.65 L506.09,146.75 L510.50,145.86 L514.96,144.98 L519.50,144.11 L524.09,143.24 L528.75,142.39 L533.47,141.54 L538.26,140.70 L543.12,139.88 L548.04,139.05 L553.04,138.24 L558.10,137.44 L563.24,136.65 L568.45,135.86 L573.73,135.08 L579.09,134.31 L584.52,133.55 L590.02,132.80 L595.61,132.06 L601.27,131.32 L607.01,130.59 L612.84,129.87 L618.74,129.16 L624.73,128.45 L630.80,127.76 L636.96,127.07 L643.20,126.38 L649.54,125.71 L655.96,125.04 L662.47,124.39 L669.07,123.73 L675.76,123.09 L682.55,122.45 L689.44,121.82 L696.42,121.20 L703.50,120.58 L710.68,119.98 L717.96,119.38 L725.34,118.78 L732.82,118.19 L740.41,117.61 L748.11,117.04 L755.92,116.47 L763.83,115.91 L771.86,115.36 L780.00,114.81 L788.25,114.27 L796.62,113.73 L805.11,113.20 L813.71,112.68 L822.44,112.16 L831.29,111.65 L840.26,111.15 L849.36,110.65 L858.59,110.16" stroke="#000" stroke-width="2.3" stroke-dasharray="10.4 10.4"/><path d="M192.50,608.79 L192.50,608.13 L192.50,607.51 L192.50,606.86 L192.50,606.25 L192.50,605.60 L192.50,604.94 L192.50,604.32 L192.50,603.67 L192.50,603.01 L192.50,602.40 L192.50,601.78 L192.50,601.13 L192.50,600.46 L192.50,599.77 L192.50,599.16 L192.50,598.53 L192.50,597.89 L192.50,597.22 L192.50,596.54 L192.50,595.83 L192.50,595.23 L192.50,594.62 L192.50,593.99 L192.50,593.34 L192.50,592.68 L192.50,592.00 L192.50,591.31 L192.50,590.60 L192.50,589.87 L192.50,589.13 L192.50,588.52 L192.50,587.90 L192.50,587.27 L192.50,586.63 L192.50,585.97 L192.50,585.30 L192.50,584.62 L192.50,583.93 L192.50,583.22 L192.50,582.50 L192.50,581.76 L192.50,581.02 L192.50,580.25 L192.50,579.48 L192.50,578.68 L192.50,578.08 L192.50,577.47 L192.50,576.84 L192.50,576.21 L192.51,575.57 L192.51,574.93 L192.51,574.27 L192.51,573.60 L192.51,572.92 L192.51,572.24 L192.51,571.54 L192.51,570.84 L192.51,570.12 L192.51,569.39 L192.51,568.66 L192.51,567.91 L192.51,567.15 L192.51,566.38 L192.51,565.60 L192.51,564.81 L192.51,564.01 L192.52,563.20 L192.52,562.37 L192.52,561.54 L192.52,560.69 L192.52,559.83 L192.52,558.95 L192.52,558.07 L192.53,557.17 L192.53,556.56 L192.53,555.95 L192.53,555.33 L192.53,554.71 L192.53,554.08 L192.53,553.44 L192.54,552.80 L192.54,552.16 L192.54,551.50 L192.54,550.84 L192.54,550.18 L192.54,549.50 L192.55,548.82 L192.55,548.14 L192.55,547.45 L192.55,546.75 L192.56,546.04 L192.56,545.33 L192.56,544.61 L192.56,543.89 L192.57,543.16 L192.57,542.42 L192.57,541.67 L192.58,540.92 L192.58,540.16 L192.58,539.39 L192.59,538.62 L192.59,537.83 L192.60,537.04 L192.60,536.25 L192.60,535.44 L192.61,534.63 L192.61,533.81 L192.62,532.98 L192.62,532.15 L192.63,531.30 L192.64,530.45 L192.64,529.59 L192.65,528.72 L192.66,527.85 L192.66,526.96 L192.67,526.07 L192.68,525.17 L192.69,524.26 L192.70,523.34 L192.71,522.41 L192.71,521.48 L192.72,520.53 L192.73,519.58 L192.75,518.61 L192.76,517.64 L192.77,516.66 L192.78,515.67 L192.79,514.67 L192.81,513.66 L192.82,512.64 L192.84,511.61 L192.85,510.57 L192.87,509.53 L192.89,508.47 L192.90,507.40 L192.92,506.32 L192.94,505.23 L192.96,504.13 L192.98,503.02 L193.01,501.90 L193.03,500.77 L193.05,499.63 L193.08,498.48 L193.11,497.32 L193.13,496.14 L193.16,494.96 L193.19,493.76 L193.21,493.16 L193.23,492.55 L193.24,491.94 L193.26,491.33 L193.28,490.72 L193.30,490.10 L193.31,489.48 L193.33,488.86 L193.35,488.23 L193.37,487.60 L193.39,486.97 L193.41,486.34 L193.43,485.70 L193.45,485.06 L193.47,484.41 L193.50,483.77 L193.52,483.12 L193.54,482.46 L193.57,481.81 L193.59,481.15 L193.62,480.49 L193.64,479.82 L193.67,479.15 L193.69,478.48 L193.72,477.81 L193.75,477.13 L193.78,476.45 L193.81,475.76 L193.84,475.07 L193.87,474.38 L193.90,473.69 L193.93,472.99 L193.96,472.29 L194.00,471.58 L194.03,470.88 L194.07,470.17 L194.10,469.45 L194.14,468.73 L194.18,468.01 L194.21,467.29 L194.25,466.56 L194.29,465.83 L194.33,465.09 L194.38,464.36 L194.42,463.61 L194.46,462.87 L194.51,462.12 L194.55,461.37 L194.60,460.61 L194.65,459.85 L194.70,459.09 L194.75,458.32 L194.80,457.55 L194.85,456.78 L194.91,456.00 L194.96,455.22 L195.02,454.43 L195.07,453.64 L195.13,452.85 L195.19,452.05 L195.25,451.25 L195.32,450.45 L195.38,449.64 L195.45,448.83 L195.51,448.02 L195.58,447.20 L195.65,446.37 L195.73,445.55 L195.80,444.72 L195.88,443.88 L195.95,443.04 L196.03,442.20 L196.11,441.35 L196.19,440.50 L196.28,439.65 L196.37,438.79 L196.45,437.92 L196.54,437.06 L196.64,436.19 L196.73,435.31 L196.83,434.43 L196.93,433.55 L197.03,432.66 L197.13,431.77 L197.24,430.87 L197.34,429.97 L197.46,429.07 L197.57,428.16 L197.68,427.24 L197.80,426.33 L197.92,425.40 L198.05,424.48 L198.17,423.55 L198.30,422.61 L198.44,421.67 L198.57,420.73 L198.71,419.78 L198.85,418.83 L199.00,417.87 L199.15,416.91 L199.30,415.94 L199.45,414.97 L199.61,413.99 L199.77,413.01 L199.94,412.03 L200.11,411.04 L200.28,410.04 L200.46,409.05 L200.64,408.04 L200.83,407.03 L201.02,406.02 L201.21,405.00 L201.41,403.98 L201.62,402.95 L201.83,401.92 L202.04,400.88 L202.26,399.84 L202.48,398.79 L202.71,397.74 L202.94,396.68 L203.18,395.62 L203.42,394.55 L203.67,393.48 L203.93,392.40 L204.19,391.32 L204.46,390.23 L204.73,389.14 L205.01,388.04 L205.29,386.94 L205.59,385.83 L205.89,384.71 L206.19,383.60 L206.50,382.47 L206.82,381.34 L207.15,380.21 L207.49,379.07 L207.83,377.92 L208.18,376.77 L208.54,375.61 L208.90,374.45 L209.28,373.28 L209.66,372.11 L210.05,370.93 L210.45,369.75 L210.86,368.56 L211.28,367.36 L211.71,366.16 L212.15,364.95 L212.60,363.74 L213.06,362.52 L213.53,361.30 L214.01,360.07 L214.50,358.83 L215.00,357.59 L215.52,356.34 L216.04,355.09 L216.58,353.83 L217.13,352.56 L217.69,351.29 L218.27,350.02 L218.86,348.73 L219.46,347.44 L220.07,346.15 L220.70,344.85 L221.35,343.54 L222.01,342.22 L222.68,340.90 L223.37,339.58 L224.08,338.24 L224.80,336.90 L225.54,335.56 L226.29,334.21 L227.06,332.85 L227.85,331.48 L228.66,330.11 L229.48,328.74 L230.33,327.35 L231.19,325.96 L232.08,324.56 L232.98,323.16 L233.91,321.75 L234.85,320.33 L235.82,318.91 L236.81,317.48 L237.82,316.04 L238.86,314.59 L239.92,313.14 L241.00,311.69 L242.11,310.22 L243.24,308.75 L244.40,307.27 L245.58,305.78 L246.80,304.29 L248.04,302.79 L249.31,301.28 L250.60,299.77 L251.93,298.25 L253.29,296.72 L254.68,295.18 L256.10,293.64 L257.55,292.09 L259.03,290.53 L260.55,288.97 L262.11,287.40 L263.70,285.82 L265.33,284.23 L266.99,282.63 L268.69,281.03 L270.43,279.42 L272.21,277.80 L274.03,276.18 L275.89,274.54 L277.80,272.90 L279.75,271.25 L281.74,269.60 L283.78,267.93 L285.86,266.26 L288.00,264.58 L290.18,262.89 L292.41,261.20 L294.69,259.49 L297.03,257.78 L299.41,256.06 L301.86,254.33 L304.35,252.60 L306.91,250.85 L309.52,249.10 L312.19,247.34 L314.93,245.57 L317.73,243.79 L320.59,242.00 L323.51,240.21 L326.50,238.41 L329.56,236.59 L332.70,234.77 L335.90,232.94 L339.17,231.11 L342.52,229.26 L345.95,227.40 L349.46,225.54 L353.04,223.67 L356.71,221.78 L360.46,219.89 L364.30,217.99 L368.22,216.09 L372.23,214.17 L376.34,212.24 L380.54,210.31 L384.83,208.36 L389.23,206.41 L393.72,204.44 L398.32,202.47 L403.02,200.49 L407.83,198.50 L412.75,196.50 L417.78,194.48 L422.92,192.46 L428.19,190.44 L433.57,188.40 L439.08,186.35 L444.71,184.29 L450.47,182.22 L456.36,180.14 L462.39,178.05 L468.55,175.96 L474.86,173.85 L481.31,171.73 L487.91,169.60 L494.66,167.47 L501.56,165.32 L508.62,163.16 L515.84,160.99 L523.22,158.81 L530.78,156.62 L538.51,154.42 L546.41,152.21 L554.49,149.99 L562.76,147.76 L571.22,145.52 L579.87,143.27 L588.72,141.01 L597.77,138.73 L607.03,136.45 L616.49,134.16 L626.18,131.85 L636.09,129.53 L646.22,127.21 L656.58,124.87 L667.18,122.52 L678.03,120.16 L689.12,117.78 L700.46,115.40 L712.06,113.01 L723.93,110.60 L736.07,108.18 L748.49,105.75 L761.19,103.31 L774.18,100.86 L787.46,98.40 L801.05,95.92 L814.96,93.44 L829.17,90.94 L843.72,88.43 L858.59,85.91" stroke="#0000ff" stroke-width="2.5" stroke-linecap="round" stroke-dasharray="0.9 11.58"/><path d="M194.43,621.00 L194.45,620.34 L194.46,619.67 L194.48,619.01 L194.49,618.34 L194.51,617.68 L194.52,617.02 L194.54,616.35 L194.55,615.69 L194.57,615.02 L194.58,614.36 L194.60,613.70 L194.61,613.03 L194.63,612.37 L194.64,611.70 L194.66,611.04 L194.67,610.38 L194.69,609.71 L194.71,609.05 L194.72,608.38 L194.74,607.72 L194.75,607.06 L194.77,606.39 L194.79,605.73 L194.80,605.06 L194.82,604.40 L194.84,603.74 L194.86,603.07 L194.87,602.41 L194.89,601.74 L194.91,601.08 L194.92,600.42 L194.94,599.75 L194.96,599.09 L194.98,598.42 L195.00,597.76 L195.02,597.10 L195.03,596.43 L195.05,595.77 L195.07,595.10 L195.09,594.44 L195.11,593.78 L195.13,593.11 L195.15,592.45 L195.17,591.78 L195.19,591.12 L195.21,590.45 L195.23,589.79 L195.25,589.13 L195.27,588.46 L195.29,587.80 L195.31,587.13 L195.33,586.47 L195.35,585.81 L195.37,585.14 L195.39,584.48 L195.41,583.81 L195.43,583.15 L195.45,582.49 L195.48,581.82 L195.50,581.16 L195.52,580.49 L195.54,579.83 L195.56,579.17 L195.59,578.50 L195.61,577.84 L195.63,577.17 L195.65,576.51 L195.68,575.85 L195.70,575.18 L195.72,574.52 L195.75,573.85 L195.77,573.19 L195.80,572.53 L195.82,571.86 L195.84,571.20 L195.87,570.53 L195.89,569.87 L195.92,569.21 L195.94,568.54 L195.97,567.88 L195.99,567.21 L196.02,566.55 L196.04,565.89 L196.07,565.22 L196.10,564.56 L196.12,563.89 L196.15,563.23 L196.18,562.57 L196.20,561.90 L196.23,561.24 L196.26,560.57 L196.29,559.91 L196.31,559.25 L196.34,558.58 L196.37,557.92 L196.40,557.25 L196.43,556.59 L196.46,555.93 L196.48,555.26 L196.51,554.60 L196.54,553.93 L196.57,553.27 L196.60,552.61 L196.63,551.94 L196.66,551.28 L196.69,550.61 L196.72,549.95 L196.75,549.29 L196.79,548.62 L196.82,547.96 L196.85,547.29 L196.88,546.63 L196.91,545.97 L196.95,545.30 L196.98,544.64 L197.01,543.97 L197.04,543.31 L197.08,542.65 L197.11,541.98 L197.14,541.32 L197.18,540.65 L197.21,539.99 L197.25,539.33 L197.28,538.66 L197.32,538.00 L197.35,537.33 L197.39,536.67 L197.42,536.01 L197.46,535.34 L197.50,534.68 L197.53,534.01 L197.57,533.35 L197.61,532.69 L197.64,532.02 L197.68,531.36 L197.72,530.69 L197.76,530.03 L197.80,529.36 L197.84,528.70 L197.88,528.04 L197.91,527.37 L197.95,526.71 L197.99,526.04 L198.03,525.38 L198.07,524.72 L198.12,524.05 L198.16,523.39 L198.20,522.72 L198.24,522.06 L198.28,521.40 L198.32,520.73 L198.37,520.07 L198.41,519.40 L198.45,518.74 L198.50,518.08 L198.54,517.41 L198.59,516.75 L198.63,516.08 L198.68,515.42 L198.72,514.76 L198.77,514.09 L198.81,513.43 L198.86,512.76 L198.90,512.10 L198.95,511.44 L199.00,510.77 L199.05,510.11 L199.09,509.44 L199.14,508.78 L199.19,508.12 L199.24,507.45 L199.29,506.79 L199.34,506.12 L199.39,505.46 L199.44,504.80 L199.49,504.13 L199.54,503.47 L199.59,502.80 L199.65,502.14 L199.70,501.48 L199.75,500.81 L199.80,500.15 L199.86,499.48 L199.91,498.82 L199.97,498.16 L200.02,497.49 L200.08,496.83 L200.13,496.16 L200.19,495.50 L200.24,494.84 L200.30,494.17 L200.36,493.51 L200.42,492.84 L200.47,492.18 L200.53,491.52 L200.59,490.85 L200.65,490.19 L200.71,489.52 L200.77,488.86 L200.83,488.20 L200.89,487.53 L200.95,486.87 L201.02,486.20 L201.08,485.54 L201.14,484.88 L201.20,484.21 L201.27,483.55 L201.33,482.88 L201.40,482.22 L201.46,481.56 L201.53,480.89 L201.59,480.23 L201.66,479.56 L201.73,478.90 L201.79,478.24 L201.86,477.57 L201.93,476.91 L202.00,476.24 L202.07,475.58 L202.14,474.92 L202.21,474.25 L202.28,473.59 L202.35,472.92 L202.43,472.26 L202.50,471.60 L202.57,470.93 L202.65,470.27 L202.72,469.60 L202.80,468.94 L202.87,468.27 L202.95,467.61 L203.02,466.95 L203.10,466.28 L203.18,465.62 L203.26,464.95 L203.34,464.29 L203.41,463.63 L203.49,462.96 L203.58,462.30 L203.66,461.63 L203.74,460.97 L203.82,460.31 L203.90,459.64 L203.99,458.98 L204.07,458.31 L204.16,457.65 L204.24,456.99 L204.33,456.32 L204.41,455.66 L204.50,454.99 L204.59,454.33 L204.68,453.67 L204.77,453.00 L204.86,452.34 L204.95,451.67 L205.04,451.01 L205.13,450.35 L205.22,449.68 L205.32,449.02 L205.41,448.35 L205.51,447.69 L205.60,447.03 L205.70,446.36 L205.79,445.70 L205.89,445.03 L205.99,444.37 L206.09,443.71 L206.19,443.04 L206.29,442.38 L206.39,441.71 L206.49,441.05 L206.59,440.39 L206.70,439.72 L206.80,439.06 L206.91,438.39 L207.01,437.73 L207.12,437.07 L207.22,436.40 L207.33,435.74 L207.44,435.07 L207.55,434.41 L207.66,433.75 L207.77,433.08 L207.88,432.42 L208.00,431.75 L208.11,431.09 L208.22,430.43 L208.34,429.76 L208.46,429.10 L208.57,428.43 L208.69,427.77 L208.81,427.11 L208.93,426.44 L209.05,425.78 L209.17,425.11 L209.29,424.45 L209.42,423.79 L209.54,423.12 L209.66,422.46 L209.79,421.79 L209.92,421.13 L210.05,420.47 L210.17,419.80 L210.30,419.14 L210.43,418.47 L210.57,417.81 L210.70,417.15 L210.83,416.48 L210.97,415.82 L211.10,415.15 L211.24,414.49 L211.37,413.83 L211.51,413.16 L211.65,412.50 L211.79,411.83 L211.93,411.17 L212.08,410.51 L212.22,409.84 L212.36,409.18 L212.51,408.51 L212.66,407.85 L212.80,407.18 L212.95,406.52 L213.10,405.86 L213.25,405.19 L213.41,404.53 L213.56,403.86 L213.71,403.20 L213.87,402.54 L214.03,401.87 L214.18,401.21 L214.34,400.54 L214.50,399.88 L214.66,399.22 L214.83,398.55 L214.99,397.89 L215.15,397.22 L215.32,396.56 L215.49,395.90 L215.66,395.23 L215.83,394.57 L216.00,393.90 L216.17,393.24 L216.34,392.58 L216.52,391.91 L216.69,391.25 L216.87,390.58 L217.05,389.92 L217.23,389.26 L217.41,388.59 L217.59,387.93 L217.78,387.26 L217.96,386.60 L218.15,385.94 L218.34,385.27 L218.53,384.61 L218.72,383.94 L218.91,383.28 L219.10,382.62 L219.30,381.95 L219.49,381.29 L219.69,380.62 L219.89,379.96 L220.09,379.30 L220.29,378.63 L220.50,377.97 L220.70,377.30 L220.91,376.64 L221.12,375.98 L221.33,375.31 L221.54,374.65 L221.75,373.98 L221.97,373.32 L222.18,372.66 L222.40,371.99 L222.62,371.33 L222.84,370.66 L223.06,370.00 L223.29,369.34 L223.51,368.67 L223.74,368.01 L223.97,367.34 L224.20,366.68 L224.43,366.02 L224.67,365.35 L224.90,364.69 L225.14,364.02 L225.38,363.36 L225.62,362.70 L225.86,362.03 L226.11,361.37 L226.35,360.70 L226.60,360.04 L226.85,359.38 L227.10,358.71 L227.36,358.05 L227.61,357.38 L227.87,356.72 L228.13,356.06 L228.39,355.39 L228.65,354.73 L228.92,354.06 L229.18,353.40 L229.45,352.74 L229.72,352.07 L230.00,351.41 L230.27,350.74 L230.55,350.08 L230.83,349.42 L231.11,348.75 L231.39,348.09 L231.68,347.42 L231.96,346.76 L232.25,346.09 L232.54,345.43 L232.84,344.77 L233.13,344.10 L233.43,343.44 L233.73,342.77 L234.03,342.11 L234.34,341.45 L234.64,340.78 L234.95,340.12 L235.26,339.45 L235.58,338.79 L235.89,338.13 L236.21,337.46 L236.53,336.80 L236.85,336.13 L237.18,335.47 L237.51,334.81 L237.84,334.14 L238.17,333.48 L238.50,332.81 L238.84,332.15 L239.18,331.49 L239.52,330.82 L239.87,330.16 L240.21,329.49 L240.56,328.83 L240.92,328.17 L241.27,327.50 L241.63,326.84 L241.99,326.17 L242.35,325.51 L242.72,324.85 L243.08,324.18 L243.46,323.52 L243.83,322.85 L244.20,322.19 L244.58,321.53 L244.97,320.86 L245.35,320.20 L245.74,319.53 L246.13,318.87 L246.52,318.21 L246.92,317.54 L247.32,316.88 L247.72,316.21 L248.12,315.55 L248.53,314.89 L248.94,314.22 L249.35,313.56 L249.77,312.89 L250.19,312.23 L250.61,311.57 L251.04,310.90 L251.47,310.24 L251.90,309.57 L252.34,308.91 L252.77,308.25 L253.22,307.58 L253.66,306.92 L254.11,306.25 L254.56,305.59 L255.02,304.93 L255.47,304.26 L255.94,303.60 L256.40,302.93 L256.87,302.27 L257.34,301.61 L257.82,300.94 L258.29,300.28 L258.78,299.61 L259.26,298.95 L259.75,298.29 L260.24,297.62 L260.74,296.96 L261.24,296.29 L261.74,295.63 L262.25,294.97 L262.76,294.30 L263.28,293.64 L263.80,292.97 L264.32,292.31 L264.85,291.65 L265.38,290.98 L265.91,290.32 L266.45,289.65 L266.99,288.99 L267.54,288.32 L268.09,287.66 L268.64,287.00 L269.20,286.33 L269.76,285.67 L270.33,285.00 L270.90,284.34 L271.47,283.68 L272.05,283.01 L272.63,282.35 L273.22,281.68 L273.81,281.02 L274.41,280.36 L275.01,279.69 L275.61,279.03 L276.22,278.36 L276.84,277.70 L277.45,277.04 L278.08,276.37 L278.70,275.71 L279.34,275.04 L279.97,274.38 L280.61,273.72 L281.26,273.05 L281.91,272.39 L282.57,271.72 L283.23,271.06 L283.89,270.40 L284.56,269.73 L285.24,269.07 L285.92,268.40 L286.60,267.74 L287.29,267.08 L287.98,266.41 L288.68,265.75 L289.39,265.08 L290.10,264.42 L290.81,263.76 L291.54,263.09 L292.26,262.43 L292.99,261.76 L293.73,261.10 L294.47,260.44 L295.22,259.77 L295.97,259.11 L296.73,258.44 L297.49,257.78 L298.26,257.12 L299.04,256.45 L299.82,255.79 L300.61,255.12 L301.40,254.46 L302.20,253.80 L303.00,253.13 L303.81,252.47 L304.63,251.80 L305.45,251.14 L306.27,250.48 L307.11,249.81 L307.95,249.15 L308.79,248.48 L309.65,247.82 L310.51,247.16 L311.37,246.49 L312.24,245.83 L313.12,245.16 L314.00,244.50 L314.89,243.84 L315.79,243.17 L316.69,242.51 L317.61,241.84 L318.52,241.18 L319.45,240.52 L320.38,239.85 L321.31,239.19 L322.26,238.52 L323.21,237.86 L324.17,237.20 L325.13,236.53 L326.10,235.87 L327.08,235.20 L328.07,234.54 L329.06,233.88 L330.06,233.21 L331.07,232.55 L332.09,231.88 L333.11,231.22 L334.14,230.56 L335.18,229.89 L336.22,229.23 L337.28,228.56 L338.34,227.90 L339.41,227.23 L340.49,226.57 L341.57,225.91 L342.66,225.24 L343.76,224.58 L344.87,223.91 L345.99,223.25 L347.11,222.59 L348.25,221.92 L349.39,221.26 L350.54,220.59 L351.70,219.93 L352.86,219.27 L354.04,218.60 L355.22,217.94 L356.41,217.27 L357.62,216.61 L358.83,215.95 L360.05,215.28 L361.27,214.62 L362.51,213.95 L363.76,213.29 L365.01,212.63 L366.28,211.96 L367.55,211.30 L368.83,210.63 L370.12,209.97 L371.43,209.31 L372.74,208.64 L374.06,207.98 L375.39,207.31 L376.73,206.65 L378.08,205.99 L379.44,205.32 L380.81,204.66 L382.19,203.99 L383.58,203.33 L384.98,202.67 L386.39,202.00 L387.81,201.34 L389.25,200.67 L390.69,200.01 L392.14,199.35 L393.60,198.68 L395.08,198.02 L396.56,197.35 L398.06,196.69 L399.56,196.03 L401.08,195.36 L402.61,194.70 L404.15,194.03 L405.70,193.37 L407.26,192.71 L408.84,192.04 L410.42,191.38 L412.02,190.71 L413.63,190.05 L415.25,189.39 L416.88,188.72 L418.53,188.06 L420.18,187.39 L421.85,186.73 L423.53,186.07 L425.23,185.40 L426.93,184.74 L428.65,184.07 L430.38,183.41 L432.13,182.75 L433.88,182.08 L435.65,181.42 L437.43,180.75 L439.23,180.09 L441.04,179.43 L442.86,178.76 L444.69,178.10 L446.54,177.43 L448.40,176.77 L450.28,176.11 L452.17,175.44 L454.07,174.78 L455.99,174.11 L457.92,173.45 L459.87,172.79 L461.82,172.12 L463.80,171.46 L465.79,170.79 L467.79,170.13 L469.81,169.47 L471.84,168.80 L473.89,168.14 L475.95,167.47 L478.03,166.81 L480.12,166.14 L482.23,165.48 L484.35,164.82 L486.49,164.15 L488.65,163.49 L490.82,162.82 L493.00,162.16 L495.20,161.50 L497.42,160.83 L499.66,160.17 L501.91,159.50 L504.18,158.84 L506.46,158.18 L508.76,157.51 L511.08,156.85 L513.42,156.18 L515.77,155.52 L518.14,154.86 L520.52,154.19 L522.93,153.53 L525.35,152.86 L527.79,152.20 L530.25,151.54 L532.72,150.87 L535.22,150.21 L537.73,149.54 L540.26,148.88 L542.81,148.22 L545.37,147.55 L547.96,146.89 L550.57,146.22 L553.19,145.56 L555.83,144.90 L558.50,144.23 L561.18,143.57 L563.88,142.90 L566.60,142.24 L569.34,141.58 L572.11,140.91 L574.89,140.25 L577.69,139.58 L580.51,138.92 L583.36,138.26 L586.22,137.59 L589.11,136.93 L592.02,136.26 L594.94,135.60 L597.89,134.94 L600.86,134.27 L603.86,133.61 L606.87,132.94 L609.91,132.28 L612.97,131.62 L616.05,130.95 L619.15,130.29 L622.28,129.62 L625.43,128.96 L628.61,128.30 L631.80,127.63 L635.02,126.97 L638.26,126.30 L641.53,125.64 L644.82,124.98 L648.14,124.31 L651.48,123.65 L654.84,122.98 L658.23,122.32 L661.64,121.66 L665.08,120.99 L668.55,120.33 L672.03,119.66 L675.55,119.00 L679.09,118.34 L682.66,117.67 L686.25,117.01 L689.87,116.34 L693.51,115.68 L697.18,115.02 L700.88,114.35 L704.61,113.69 L708.36,113.02 L712.14,112.36 L715.95,111.70 L719.79,111.03 L723.65,110.37 L727.55,109.70 L731.47,109.04 L735.42,108.38 L739.40,107.71 L743.41,107.05 L747.44,106.38 L751.51,105.72 L755.61,105.05 L759.73,104.39 L763.89,103.73 L768.08,103.06 L772.30,102.40 L776.55,101.73 L780.83,101.07 L785.14,100.41 L789.48,99.74 L793.86,99.08 L798.27,98.41 L802.71,97.75 L807.18,97.09 L811.68,96.42 L816.22,95.76 L820.79,95.09 L825.40,94.43 L830.04,93.77 L834.71,93.10 L839.42,92.44 L844.16,91.77 L848.93,91.11 L853.75,90.45 L858.59,89.78" stroke="#ff0000" stroke-width="2.3" stroke-dasharray="6.5 5.2"/></g>
<rect x="192.5" y="11" width="758.0" height="610" fill="none" stroke="#000" stroke-width="2.3" stroke-linejoin="round"/>
<path d="M181.0,621.00H192.5 M186.8,570.17H192.5 M181.0,519.33H192.5 M186.8,468.50H192.5 M181.0,417.67H192.5 M186.8,366.83H192.5 M181.0,316.00H192.5 M186.8,265.17H192.5 M181.0,214.33H192.5 M186.8,163.50H192.5 M181.0,112.67H192.5 M186.8,61.83H192.5 M181.0,11.00H192.5 M192.50,621V632.5 M239.88,621V626.7 M287.25,621V632.5 M334.62,621V626.7 M382.00,621V632.5 M429.38,621V626.7 M476.75,621V632.5 M524.12,621V626.7 M571.50,621V632.5 M618.88,621V626.7 M666.25,621V632.5 M713.62,621V626.7 M761.00,621V632.5 M808.38,621V626.7 M855.75,621V632.5 M903.12,621V626.7 M950.50,621V632.5" stroke="#000" stroke-width="2.3" fill="none"/>
<text transform="translate(172.2,629.60) scale(0.965,1.035)" text-anchor="end" font-size="29.6" font-weight="bold">0</text>
<text transform="translate(172.2,527.93) scale(0.965,1.035)" text-anchor="end" font-size="29.6" font-weight="bold">10</text>
<text transform="translate(172.2,426.27) scale(0.965,1.035)" text-anchor="end" font-size="29.6" font-weight="bold">20</text>
<text transform="translate(172.2,324.60) scale(0.965,1.035)" text-anchor="end" font-size="29.6" font-weight="bold">30</text>
<text transform="translate(172.2,222.93) scale(0.965,1.035)" text-anchor="end" font-size="29.6" font-weight="bold">40</text>
<text transform="translate(172.2,121.27) scale(0.965,1.035)" text-anchor="end" font-size="29.6" font-weight="bold">50</text>
<text transform="translate(172.2,19.60) scale(0.965,1.035)" text-anchor="end" font-size="29.6" font-weight="bold">60</text>
<text transform="translate(192.50,664) scale(0.965,1.035)" text-anchor="middle" font-size="29.6" font-weight="bold">0</text>
<text transform="translate(287.25,664) scale(0.965,1.035)" text-anchor="middle" font-size="29.6" font-weight="bold">1</text>
<text transform="translate(382.00,664) scale(0.965,1.035)" text-anchor="middle" font-size="29.6" font-weight="bold">2</text>
<text transform="translate(476.75,664) scale(0.965,1.035)" text-anchor="middle" font-size="29.6" font-weight="bold">3</text>
<text transform="translate(571.50,664) scale(0.965,1.035)" text-anchor="middle" font-size="29.6" font-weight="bold">4</text>
<text transform="translate(666.25,664) scale(0.965,1.035)" text-anchor="middle" font-size="29.6" font-weight="bold">5</text>
<text transform="translate(761.00,664) scale(0.965,1.035)" text-anchor="middle" font-size="29.6" font-weight="bold">6</text>
<text transform="translate(855.75,664) scale(0.965,1.035)" text-anchor="middle" font-size="29.6" font-weight="bold">7</text>
<text transform="translate(950.50,664) scale(0.965,1.035)" text-anchor="middle" font-size="29.6" font-weight="bold">8</text>
<text x="318" y="717.5" font-size="34.8" font-weight="bold">Equiblirium concentration (mg/L)</text>
<text transform="translate(109.7,516) rotate(-90)" font-size="34.4" font-weight="bold">Adsorption capacity (mg/g)</text>
<text x="1.5" y="40" font-size="40" font-weight="bold">(a)</text>
<text x="218" y="55.2" font-size="31.8" font-weight="bold" fill="#0000ff">Methylene Blue</text>
<use href="#balla" x="728.1" y="432.6"/>
<path d="M695.6,465.9H759.3" stroke="#000" stroke-width="2.3" stroke-dasharray="10.4 10.4"/>
<path d="M696.6,501H760.3" stroke="#0000ff" stroke-width="2.5" stroke-linecap="round" stroke-dasharray="0.9 11.58"/>
<path d="M695.6,536H759.3" stroke="#ff0000" stroke-width="2.3" stroke-dasharray="6.5 5.2"/>
<text x="766.8" y="441.20" font-size="27.9">Experimental</text>
<text x="766.8" y="475.70" font-size="27.9">Langmuir</text>
<text x="766.8" y="510.20" font-size="27.9">Freundlich</text>
<text x="766.8" y="544.70" font-size="27.9">Temkin</text>
<clipPath id="bclip"><rect x="200" y="753.7" width="753" height="605.5999999999999"/></clipPath>
<g clip-path="url(#bclip)" fill="none" stroke-linecap="butt"><path d="M200.02,1359.04 L200.05,1358.44 L200.09,1357.83 L200.12,1357.22 L200.16,1356.59 L200.20,1355.95 L200.24,1355.32 L200.27,1354.69 L200.31,1354.04 L200.35,1353.38 L200.39,1352.72 L200.43,1352.08 L200.47,1351.39 L200.51,1350.74 L200.55,1350.04 L200.59,1349.41 L200.63,1348.74 L200.68,1348.03 L200.71,1347.42 L200.75,1346.78 L200.79,1346.11 L200.84,1345.41 L200.88,1344.67 L200.93,1343.89 L200.97,1343.28 L201.01,1342.64 L201.05,1341.99 L201.09,1341.30 L201.14,1340.59 L201.19,1339.86 L201.23,1339.09 L201.28,1338.30 L201.34,1337.47 L201.39,1336.62 L201.45,1335.73 L201.49,1335.12 L201.53,1334.50 L201.57,1333.86 L201.61,1333.21 L201.66,1332.54 L201.70,1331.85 L201.75,1331.15 L201.79,1330.42 L201.84,1329.69 L201.89,1328.93 L201.94,1328.16 L202.00,1327.36 L202.05,1326.55 L202.11,1325.72 L202.16,1324.87 L202.22,1324.00 L202.28,1323.11 L202.34,1322.20 L202.41,1321.27 L202.47,1320.31 L202.54,1319.34 L202.61,1318.34 L202.68,1317.32 L202.75,1316.27 L202.82,1315.20 L202.90,1314.11 L202.98,1312.99 L203.06,1311.85 L203.14,1310.69 L203.23,1309.49 L203.27,1308.89 L203.32,1308.27 L203.36,1307.65 L203.40,1307.03 L203.45,1306.39 L203.50,1305.75 L203.54,1305.11 L203.59,1304.45 L203.64,1303.79 L203.69,1303.13 L203.74,1302.45 L203.79,1301.77 L203.84,1301.08 L203.89,1300.38 L203.94,1299.68 L204.00,1298.97 L204.05,1298.25 L204.10,1297.53 L204.16,1296.79 L204.22,1296.05 L204.27,1295.30 L204.33,1294.55 L204.39,1293.78 L204.45,1293.01 L204.51,1292.23 L204.57,1291.45 L204.63,1290.65 L204.69,1289.85 L204.75,1289.04 L204.82,1288.22 L204.88,1287.39 L204.95,1286.56 L205.02,1285.72 L205.08,1284.86 L205.15,1284.01 L205.22,1283.14 L205.29,1282.26 L205.36,1281.38 L205.43,1280.48 L205.51,1279.58 L205.58,1278.67 L205.66,1277.76 L205.73,1276.83 L205.81,1275.89 L205.89,1274.95 L205.97,1274.00 L206.05,1273.04 L206.13,1272.07 L206.21,1271.09 L206.29,1270.10 L206.38,1269.10 L206.46,1268.10 L206.55,1267.08 L206.64,1266.06 L206.73,1265.03 L206.82,1263.99 L206.91,1262.94 L207.00,1261.88 L207.10,1260.81 L207.19,1259.73 L207.29,1258.65 L207.39,1257.55 L207.49,1256.45 L207.59,1255.33 L207.69,1254.21 L207.79,1253.08 L207.90,1251.94 L208.00,1250.79 L208.11,1249.63 L208.22,1248.46 L208.33,1247.29 L208.44,1246.10 L208.56,1244.90 L208.67,1243.70 L208.79,1242.48 L208.90,1241.26 L209.02,1240.03 L209.15,1238.79 L209.27,1237.54 L209.39,1236.28 L209.52,1235.01 L209.65,1233.73 L209.78,1232.44 L209.91,1231.15 L210.04,1229.84 L210.18,1228.53 L210.31,1227.21 L210.45,1225.87 L210.59,1224.53 L210.74,1223.18 L210.88,1221.83 L211.03,1220.46 L211.17,1219.08 L211.32,1217.70 L211.48,1216.30 L211.63,1214.90 L211.79,1213.49 L211.95,1212.07 L212.11,1210.64 L212.27,1209.21 L212.43,1207.76 L212.60,1206.31 L212.77,1204.85 L212.94,1203.38 L213.12,1201.90 L213.29,1200.41 L213.47,1198.92 L213.65,1197.42 L213.83,1195.91 L214.02,1194.39 L214.21,1192.86 L214.40,1191.33 L214.59,1189.79 L214.79,1188.24 L214.99,1186.68 L215.19,1185.12 L215.39,1183.55 L215.60,1181.97 L215.81,1180.39 L216.02,1178.80 L216.24,1177.20 L216.46,1175.59 L216.68,1173.98 L216.90,1172.36 L217.13,1170.73 L217.36,1169.10 L217.59,1167.46 L217.83,1165.82 L218.07,1164.17 L218.31,1162.51 L218.56,1160.85 L218.81,1159.18 L219.06,1157.51 L219.32,1155.83 L219.58,1154.15 L219.84,1152.46 L220.11,1150.76 L220.38,1149.07 L220.65,1147.36 L220.93,1145.65 L221.21,1143.94 L221.49,1142.22 L221.78,1140.50 L222.08,1138.77 L222.37,1137.04 L222.67,1135.31 L222.98,1133.57 L223.29,1131.83 L223.60,1130.08 L223.92,1128.34 L224.24,1126.58 L224.57,1124.83 L224.90,1123.07 L225.23,1121.31 L225.57,1119.55 L225.91,1117.78 L226.26,1116.02 L226.61,1114.25 L226.97,1112.48 L227.33,1110.70 L227.70,1108.93 L228.07,1107.15 L228.45,1105.38 L228.83,1103.60 L229.22,1101.82 L229.61,1100.04 L230.01,1098.26 L230.42,1096.47 L230.82,1094.69 L231.24,1092.91 L231.66,1091.13 L232.08,1089.35 L232.52,1087.56 L232.95,1085.78 L233.40,1084.00 L233.84,1082.22 L234.30,1080.44 L234.76,1078.66 L235.23,1076.89 L235.70,1075.11 L236.18,1073.34 L236.67,1071.56 L237.16,1069.79 L237.66,1068.03 L238.17,1066.26 L238.68,1064.49 L239.20,1062.73 L239.73,1060.97 L240.26,1059.22 L240.80,1057.46 L241.35,1055.71 L241.91,1053.97 L242.47,1052.22 L243.04,1050.48 L243.62,1048.75 L244.20,1047.01 L244.80,1045.28 L245.40,1043.56 L246.01,1041.84 L246.63,1040.12 L247.26,1038.41 L247.89,1036.70 L248.54,1035.00 L249.19,1033.30 L249.85,1031.61 L250.52,1029.92 L251.20,1028.24 L251.89,1026.56 L252.58,1024.89 L253.29,1023.23 L254.01,1021.57 L254.73,1019.91 L255.47,1018.26 L256.21,1016.62 L256.97,1014.99 L257.74,1013.36 L258.51,1011.73 L259.30,1010.12 L260.10,1008.51 L260.90,1006.90 L261.72,1005.31 L262.55,1003.72 L263.39,1002.14 L264.24,1000.56 L265.11,998.99 L265.98,997.43 L266.87,995.88 L267.77,994.33 L268.68,992.79 L269.60,991.26 L270.54,989.74 L271.49,988.23 L272.45,986.72 L273.42,985.22 L274.41,983.73 L275.41,982.24 L276.42,980.77 L277.45,979.30 L278.49,977.84 L279.55,976.39 L280.61,974.95 L281.70,973.52 L282.80,972.09 L283.91,970.68 L285.04,969.27 L286.18,967.87 L287.34,966.48 L288.51,965.10 L289.70,963.72 L290.91,962.36 L292.13,961.00 L293.37,959.66 L294.62,958.32 L295.89,956.99 L297.18,955.67 L298.49,954.36 L299.81,953.06 L301.16,951.77 L302.52,950.48 L303.89,949.21 L305.29,947.94 L306.71,946.69 L308.14,945.44 L309.59,944.20 L311.07,942.97 L312.56,941.75 L314.07,940.54 L315.61,939.34 L317.16,938.15 L318.73,936.96 L320.33,935.79 L321.95,934.62 L323.59,933.47 L325.25,932.32 L326.93,931.18 L328.64,930.06 L330.37,928.94 L332.12,927.83 L333.89,926.73 L335.69,925.63 L337.52,924.55 L339.37,923.48 L341.24,922.41 L343.14,921.36 L345.06,920.31 L347.01,919.27 L348.99,918.24 L350.99,917.22 L353.02,916.21 L355.08,915.21 L357.16,914.22 L359.27,913.23 L361.42,912.26 L363.59,911.29 L365.78,910.33 L368.01,909.38 L370.27,908.44 L372.56,907.51 L374.88,906.58 L377.23,905.67 L379.61,904.76 L382.03,903.86 L384.47,902.97 L386.95,902.09 L389.47,901.22 L392.01,900.35 L394.59,899.50 L397.21,898.65 L399.86,897.81 L402.55,896.98 L405.27,896.15 L408.03,895.34 L410.82,894.53 L413.66,893.73 L416.53,892.94 L419.44,892.15 L422.39,891.38 L425.38,890.61 L428.41,889.85 L431.48,889.09 L434.59,888.35 L437.74,887.61 L440.94,886.88 L444.18,886.16 L447.46,885.44 L450.79,884.73 L454.16,884.03 L457.57,883.34 L461.04,882.65 L464.54,881.97 L468.10,881.30 L471.70,880.64 L475.36,879.98 L479.06,879.33 L482.81,878.68 L486.61,878.05 L490.46,877.41 L494.37,876.79 L498.32,876.17 L502.33,875.56 L506.40,874.96 L510.52,874.36 L514.69,873.77 L518.92,873.19 L523.21,872.61 L527.55,872.04 L531.95,871.47 L536.42,870.91 L540.94,870.36 L545.52,869.81 L550.16,869.27 L554.87,868.73 L559.64,868.21 L564.48,867.68 L569.38,867.16 L574.34,866.65 L579.37,866.15 L584.47,865.65 L589.64,865.15 L594.88,864.66 L600.18,864.18 L605.56,863.70 L611.01,863.23 L616.54,862.76 L622.14,862.30 L627.81,861.85 L633.56,861.39 L639.39,860.95 L645.30,860.51 L651.28,860.07 L657.35,859.64 L663.50,859.21 L669.73,858.79 L676.04,858.38 L682.44,857.97 L688.92,857.56 L695.50,857.16 L702.16,856.76 L708.91,856.37 L715.75,855.98 L722.68,855.60 L729.70,855.22 L736.82,854.85 L744.04,854.48 L751.35,854.11 L758.76,853.75 L766.27,853.39 L773.89,853.04 L781.60,852.69 L789.42,852.35 L797.34,852.01 L805.37,851.67 L813.51,851.34 L821.75,851.01 L830.11,850.69 L838.58,850.37 L847.16,850.05 L855.86,849.74" stroke="#d8d8d8" stroke-width="0.7"/><path d="M200.00,1346.16 L200.00,1345.53 L200.00,1344.87 L200.00,1344.25 L200.00,1343.61 L200.00,1342.93 L200.00,1342.31 L200.00,1341.66 L200.00,1340.99 L200.00,1340.38 L200.00,1339.75 L200.00,1339.10 L200.00,1338.43 L200.00,1337.74 L200.00,1337.13 L200.00,1336.50 L200.00,1335.85 L200.00,1335.18 L200.00,1334.49 L200.00,1333.79 L200.00,1333.19 L200.00,1332.57 L200.00,1331.94 L200.00,1331.29 L200.00,1330.63 L200.00,1329.95 L200.00,1329.26 L200.00,1328.55 L200.00,1327.82 L200.00,1327.08 L200.00,1326.47 L200.00,1325.85 L200.00,1325.22 L200.00,1324.57 L200.00,1323.92 L200.00,1323.25 L200.00,1322.57 L200.00,1321.88 L200.00,1321.17 L200.00,1320.45 L200.00,1319.72 L200.00,1318.97 L200.00,1318.21 L200.00,1317.44 L200.00,1316.65 L200.00,1316.05 L200.00,1315.44 L200.00,1314.82 L200.00,1314.19 L200.01,1313.55 L200.01,1312.91 L200.01,1312.25 L200.01,1311.59 L200.01,1310.91 L200.01,1310.23 L200.01,1309.54 L200.01,1308.84 L200.01,1308.12 L200.01,1307.40 L200.01,1306.67 L200.01,1305.93 L200.01,1305.17 L200.01,1304.41 L200.01,1303.63 L200.01,1302.85 L200.02,1302.05 L200.02,1301.24 L200.02,1300.42 L200.02,1299.59 L200.02,1298.75 L200.02,1297.90 L200.02,1297.03 L200.02,1296.15 L200.03,1295.26 L200.03,1294.66 L200.03,1294.05 L200.03,1293.44 L200.03,1292.82 L200.03,1292.20 L200.03,1291.57 L200.04,1290.93 L200.04,1290.29 L200.04,1289.64 L200.04,1288.99 L200.04,1288.33 L200.04,1287.66 L200.05,1286.99 L200.05,1286.31 L200.05,1285.62 L200.05,1284.93 L200.05,1284.23 L200.06,1283.53 L200.06,1282.82 L200.06,1282.10 L200.07,1281.37 L200.07,1280.64 L200.07,1279.90 L200.07,1279.16 L200.08,1278.41 L200.08,1277.65 L200.09,1276.88 L200.09,1276.11 L200.09,1275.33 L200.10,1274.54 L200.10,1273.74 L200.11,1272.94 L200.11,1272.13 L200.12,1271.31 L200.12,1270.48 L200.13,1269.65 L200.13,1268.81 L200.14,1267.96 L200.14,1267.10 L200.15,1266.23 L200.16,1265.36 L200.16,1264.48 L200.17,1263.59 L200.18,1262.69 L200.19,1261.78 L200.20,1260.87 L200.21,1259.94 L200.21,1259.01 L200.22,1258.07 L200.23,1257.12 L200.24,1256.16 L200.26,1255.19 L200.27,1254.21 L200.28,1253.23 L200.29,1252.23 L200.31,1251.23 L200.32,1250.21 L200.33,1249.19 L200.35,1248.15 L200.36,1247.11 L200.38,1246.06 L200.40,1244.99 L200.41,1243.92 L200.43,1242.84 L200.45,1241.74 L200.47,1240.64 L200.49,1239.53 L200.52,1238.40 L200.54,1237.27 L200.56,1236.12 L200.59,1234.96 L200.62,1233.80 L200.64,1232.62 L200.67,1231.43 L200.70,1230.23 L200.72,1229.62 L200.73,1229.02 L200.75,1228.41 L200.77,1227.79 L200.79,1227.18 L200.80,1226.56 L200.82,1225.94 L200.84,1225.31 L200.86,1224.69 L200.88,1224.06 L200.90,1223.42 L200.92,1222.79 L200.94,1222.15 L200.96,1221.50 L200.98,1220.86 L201.00,1220.21 L201.02,1219.56 L201.04,1218.91 L201.07,1218.25 L201.09,1217.59 L201.12,1216.92 L201.14,1216.26 L201.17,1215.59 L201.19,1214.91 L201.22,1214.24 L201.25,1213.56 L201.27,1212.88 L201.30,1212.19 L201.33,1211.50 L201.36,1210.81 L201.39,1210.11 L201.42,1209.41 L201.45,1208.71 L201.49,1208.01 L201.52,1207.30 L201.55,1206.59 L201.59,1205.87 L201.62,1205.15 L201.66,1204.43 L201.69,1203.71 L201.73,1202.98 L201.77,1202.25 L201.81,1201.51 L201.85,1200.77 L201.89,1200.03 L201.93,1199.28 L201.98,1198.53 L202.02,1197.78 L202.07,1197.02 L202.11,1196.26 L202.16,1195.50 L202.21,1194.73 L202.26,1193.96 L202.31,1193.19 L202.36,1192.41 L202.41,1191.63 L202.46,1190.84 L202.52,1190.06 L202.57,1189.26 L202.63,1188.47 L202.69,1187.67 L202.75,1186.86 L202.81,1186.05 L202.87,1185.24 L202.94,1184.43 L203.00,1183.61 L203.07,1182.79 L203.14,1181.96 L203.21,1181.13 L203.28,1180.30 L203.35,1179.46 L203.43,1178.61 L203.50,1177.77 L203.58,1176.92 L203.66,1176.06 L203.74,1175.21 L203.82,1174.34 L203.91,1173.48 L203.99,1172.61 L204.08,1171.73 L204.17,1170.85 L204.27,1169.97 L204.36,1169.09 L204.46,1168.19 L204.56,1167.30 L204.66,1166.40 L204.76,1165.50 L204.87,1164.59 L204.98,1163.68 L205.09,1162.76 L205.20,1161.84 L205.32,1160.92 L205.43,1159.99 L205.56,1159.05 L205.68,1158.12 L205.81,1157.17 L205.93,1156.23 L206.07,1155.28 L206.20,1154.32 L206.34,1153.36 L206.48,1152.40 L206.62,1151.43 L206.77,1150.45 L206.92,1149.48 L207.08,1148.49 L207.23,1147.51 L207.39,1146.51 L207.56,1145.52 L207.73,1144.52 L207.90,1143.51 L208.07,1142.50 L208.25,1141.49 L208.44,1140.47 L208.62,1139.44 L208.82,1138.41 L209.01,1137.38 L209.21,1136.34 L209.42,1135.29 L209.63,1134.24 L209.84,1133.19 L210.06,1132.13 L210.28,1131.07 L210.51,1130.00 L210.74,1128.92 L210.98,1127.85 L211.23,1126.76 L211.48,1125.67 L211.73,1124.58 L211.99,1123.48 L212.26,1122.37 L212.53,1121.27 L212.81,1120.15 L213.10,1119.03 L213.39,1117.91 L213.68,1116.77 L213.99,1115.64 L214.30,1114.50 L214.62,1113.35 L214.94,1112.20 L215.27,1111.04 L215.61,1109.88 L215.96,1108.71 L216.32,1107.54 L216.68,1106.36 L217.05,1105.17 L217.43,1103.98 L217.82,1102.79 L218.21,1101.59 L218.62,1100.38 L219.03,1099.17 L219.45,1097.95 L219.89,1096.73 L220.33,1095.50 L220.78,1094.26 L221.24,1093.02 L221.71,1091.77 L222.20,1090.52 L222.69,1089.26 L223.20,1088.00 L223.71,1086.73 L224.24,1085.45 L224.78,1084.17 L225.33,1082.88 L225.89,1081.58 L226.47,1080.28 L227.05,1078.98 L227.66,1077.66 L228.27,1076.34 L228.90,1075.02 L229.54,1073.69 L230.20,1072.35 L230.87,1071.01 L231.56,1069.66 L232.26,1068.30 L232.98,1066.94 L233.71,1065.57 L234.46,1064.19 L235.22,1062.81 L236.01,1061.42 L236.81,1060.03 L237.63,1058.63 L238.46,1057.22 L239.32,1055.80 L240.19,1054.38 L241.08,1052.95 L242.00,1051.52 L242.93,1050.08 L243.89,1048.63 L244.86,1047.17 L245.86,1045.71 L246.88,1044.24 L247.92,1042.77 L248.98,1041.29 L250.07,1039.80 L251.19,1038.30 L252.32,1036.80 L253.49,1035.29 L254.68,1033.77 L255.89,1032.25 L257.14,1030.71 L258.41,1029.18 L259.70,1027.63 L261.03,1026.08 L262.39,1024.52 L263.77,1022.95 L265.19,1021.37 L266.64,1019.79 L268.12,1018.20 L269.64,1016.60 L271.19,1015.00 L272.77,1013.39 L274.39,1011.77 L276.04,1010.14 L277.73,1008.50 L279.46,1006.86 L281.22,1005.21 L283.03,1003.55 L284.88,1001.89 L286.76,1000.21 L288.69,998.53 L290.66,996.84 L292.68,995.14 L294.74,993.44 L296.84,991.72 L299.00,990.00 L301.20,988.27 L303.45,986.54 L305.75,984.79 L308.10,983.04 L310.50,981.27 L312.96,979.50 L315.47,977.72 L318.04,975.94 L320.66,974.14 L323.34,972.34 L326.08,970.53 L328.89,968.71 L331.75,966.88 L334.68,965.04 L337.67,963.19 L340.73,961.34 L343.86,959.47 L347.06,957.60 L350.33,955.72 L353.67,953.83 L357.09,951.93 L360.58,950.02 L364.15,948.11 L367.80,946.18 L371.53,944.25 L375.34,942.30 L379.24,940.35 L383.23,938.39 L387.30,936.42 L391.46,934.44 L395.72,932.45 L400.07,930.45 L404.52,928.44 L409.06,926.42 L413.71,924.39 L418.46,922.36 L423.32,920.31 L428.28,918.26 L433.36,916.19 L438.55,914.11 L443.85,912.03 L449.27,909.94 L454.81,907.83 L460.48,905.72 L466.27,903.59 L472.18,901.46 L478.24,899.31 L484.42,897.16 L490.74,895.00 L497.21,892.82 L503.81,890.64 L510.57,888.44 L517.47,886.24 L524.53,884.02 L531.74,881.80 L539.12,879.56 L546.66,877.31 L554.36,875.06 L562.24,872.79 L570.29,870.51 L578.53,868.22 L586.94,865.92 L595.54,863.61 L604.33,861.29 L613.32,858.96 L622.51,856.61 L631.90,854.26 L641.51,851.89 L651.32,849.52 L661.35,847.13 L671.61,844.73 L682.09,842.32 L692.81,839.90 L703.77,837.47 L714.96,835.02 L726.41,832.57 L738.11,830.10 L750.08,827.62 L762.31,825.13 L774.81,822.63 L787.58,820.12 L800.65,817.59 L814.00,815.06 L827.65,812.51 L841.60,809.95 L855.86,807.38" stroke="#d8d8ff" stroke-width="0.7"/><path d="M201.24,1359.30 L201.25,1358.62 L201.26,1357.95 L201.27,1357.27 L201.28,1356.59 L201.29,1355.92 L201.30,1355.24 L201.31,1354.56 L201.32,1353.89 L201.33,1353.21 L201.34,1352.53 L201.35,1351.85 L201.36,1351.18 L201.37,1350.50 L201.38,1349.82 L201.39,1349.15 L201.40,1348.47 L201.41,1347.79 L201.42,1347.12 L201.44,1346.44 L201.45,1345.76 L201.46,1345.09 L201.47,1344.41 L201.48,1343.73 L201.49,1343.06 L201.50,1342.38 L201.52,1341.70 L201.53,1341.03 L201.54,1340.35 L201.55,1339.67 L201.56,1338.99 L201.58,1338.32 L201.59,1337.64 L201.60,1336.96 L201.61,1336.29 L201.63,1335.61 L201.64,1334.93 L201.65,1334.26 L201.67,1333.58 L201.68,1332.90 L201.69,1332.23 L201.71,1331.55 L201.72,1330.87 L201.73,1330.20 L201.75,1329.52 L201.76,1328.84 L201.77,1328.17 L201.79,1327.49 L201.80,1326.81 L201.82,1326.13 L201.83,1325.46 L201.84,1324.78 L201.86,1324.10 L201.87,1323.43 L201.89,1322.75 L201.90,1322.07 L201.92,1321.40 L201.93,1320.72 L201.95,1320.04 L201.96,1319.37 L201.98,1318.69 L201.99,1318.01 L202.01,1317.34 L202.03,1316.66 L202.04,1315.98 L202.06,1315.31 L202.07,1314.63 L202.09,1313.95 L202.11,1313.27 L202.12,1312.60 L202.14,1311.92 L202.16,1311.24 L202.17,1310.57 L202.19,1309.89 L202.21,1309.21 L202.23,1308.54 L202.24,1307.86 L202.26,1307.18 L202.28,1306.51 L202.30,1305.83 L202.32,1305.15 L202.33,1304.48 L202.35,1303.80 L202.37,1303.12 L202.39,1302.45 L202.41,1301.77 L202.43,1301.09 L202.45,1300.41 L202.47,1299.74 L202.48,1299.06 L202.50,1298.38 L202.52,1297.71 L202.54,1297.03 L202.56,1296.35 L202.58,1295.68 L202.60,1295.00 L202.63,1294.32 L202.65,1293.65 L202.67,1292.97 L202.69,1292.29 L202.71,1291.62 L202.73,1290.94 L202.75,1290.26 L202.77,1289.59 L202.79,1288.91 L202.82,1288.23 L202.84,1287.56 L202.86,1286.88 L202.88,1286.20 L202.91,1285.52 L202.93,1284.85 L202.95,1284.17 L202.98,1283.49 L203.00,1282.82 L203.02,1282.14 L203.05,1281.46 L203.07,1280.79 L203.09,1280.11 L203.12,1279.43 L203.14,1278.76 L203.17,1278.08 L203.19,1277.40 L203.22,1276.73 L203.24,1276.05 L203.27,1275.37 L203.30,1274.70 L203.32,1274.02 L203.35,1273.34 L203.37,1272.66 L203.40,1271.99 L203.43,1271.31 L203.45,1270.63 L203.48,1269.96 L203.51,1269.28 L203.54,1268.60 L203.56,1267.93 L203.59,1267.25 L203.62,1266.57 L203.65,1265.90 L203.68,1265.22 L203.71,1264.54 L203.74,1263.87 L203.77,1263.19 L203.79,1262.51 L203.82,1261.84 L203.85,1261.16 L203.89,1260.48 L203.92,1259.80 L203.95,1259.13 L203.98,1258.45 L204.01,1257.77 L204.04,1257.10 L204.07,1256.42 L204.10,1255.74 L204.14,1255.07 L204.17,1254.39 L204.20,1253.71 L204.24,1253.04 L204.27,1252.36 L204.30,1251.68 L204.34,1251.01 L204.37,1250.33 L204.40,1249.65 L204.44,1248.98 L204.47,1248.30 L204.51,1247.62 L204.55,1246.94 L204.58,1246.27 L204.62,1245.59 L204.65,1244.91 L204.69,1244.24 L204.73,1243.56 L204.76,1242.88 L204.80,1242.21 L204.84,1241.53 L204.88,1240.85 L204.92,1240.18 L204.95,1239.50 L204.99,1238.82 L205.03,1238.15 L205.07,1237.47 L205.11,1236.79 L205.15,1236.12 L205.19,1235.44 L205.23,1234.76 L205.28,1234.08 L205.32,1233.41 L205.36,1232.73 L205.40,1232.05 L205.44,1231.38 L205.49,1230.70 L205.53,1230.02 L205.57,1229.35 L205.62,1228.67 L205.66,1227.99 L205.71,1227.32 L205.75,1226.64 L205.80,1225.96 L205.84,1225.29 L205.89,1224.61 L205.93,1223.93 L205.98,1223.26 L206.03,1222.58 L206.08,1221.90 L206.12,1221.22 L206.17,1220.55 L206.22,1219.87 L206.27,1219.19 L206.32,1218.52 L206.37,1217.84 L206.42,1217.16 L206.47,1216.49 L206.52,1215.81 L206.57,1215.13 L206.62,1214.46 L206.67,1213.78 L206.73,1213.10 L206.78,1212.43 L206.83,1211.75 L206.89,1211.07 L206.94,1210.40 L207.00,1209.72 L207.05,1209.04 L207.11,1208.36 L207.16,1207.69 L207.22,1207.01 L207.28,1206.33 L207.33,1205.66 L207.39,1204.98 L207.45,1204.30 L207.51,1203.63 L207.57,1202.95 L207.63,1202.27 L207.69,1201.60 L207.75,1200.92 L207.81,1200.24 L207.87,1199.57 L207.93,1198.89 L207.99,1198.21 L208.06,1197.54 L208.12,1196.86 L208.18,1196.18 L208.25,1195.50 L208.31,1194.83 L208.38,1194.15 L208.44,1193.47 L208.51,1192.80 L208.58,1192.12 L208.65,1191.44 L208.71,1190.77 L208.78,1190.09 L208.85,1189.41 L208.92,1188.74 L208.99,1188.06 L209.06,1187.38 L209.13,1186.71 L209.21,1186.03 L209.28,1185.35 L209.35,1184.68 L209.42,1184.00 L209.50,1183.32 L209.57,1182.64 L209.65,1181.97 L209.73,1181.29 L209.80,1180.61 L209.88,1179.94 L209.96,1179.26 L210.04,1178.58 L210.11,1177.91 L210.19,1177.23 L210.27,1176.55 L210.35,1175.88 L210.44,1175.20 L210.52,1174.52 L210.60,1173.85 L210.68,1173.17 L210.77,1172.49 L210.85,1171.82 L210.94,1171.14 L211.03,1170.46 L211.11,1169.78 L211.20,1169.11 L211.29,1168.43 L211.38,1167.75 L211.47,1167.08 L211.56,1166.40 L211.65,1165.72 L211.74,1165.05 L211.83,1164.37 L211.92,1163.69 L212.02,1163.02 L212.11,1162.34 L212.21,1161.66 L212.30,1160.99 L212.40,1160.31 L212.50,1159.63 L212.60,1158.96 L212.70,1158.28 L212.80,1157.60 L212.90,1156.93 L213.00,1156.25 L213.10,1155.57 L213.20,1154.89 L213.31,1154.22 L213.41,1153.54 L213.52,1152.86 L213.63,1152.19 L213.73,1151.51 L213.84,1150.83 L213.95,1150.16 L214.06,1149.48 L214.17,1148.80 L214.28,1148.13 L214.39,1147.45 L214.51,1146.77 L214.62,1146.10 L214.74,1145.42 L214.85,1144.74 L214.97,1144.07 L215.09,1143.39 L215.21,1142.71 L215.33,1142.03 L215.45,1141.36 L215.57,1140.68 L215.69,1140.00 L215.81,1139.33 L215.94,1138.65 L216.06,1137.97 L216.19,1137.30 L216.32,1136.62 L216.45,1135.94 L216.58,1135.27 L216.71,1134.59 L216.84,1133.91 L216.97,1133.24 L217.10,1132.56 L217.24,1131.88 L217.38,1131.21 L217.51,1130.53 L217.65,1129.85 L217.79,1129.17 L217.93,1128.50 L218.07,1127.82 L218.21,1127.14 L218.36,1126.47 L218.50,1125.79 L218.65,1125.11 L218.79,1124.44 L218.94,1123.76 L219.09,1123.08 L219.24,1122.41 L219.39,1121.73 L219.54,1121.05 L219.70,1120.38 L219.85,1119.70 L220.01,1119.02 L220.17,1118.35 L220.33,1117.67 L220.49,1116.99 L220.65,1116.31 L220.81,1115.64 L220.97,1114.96 L221.14,1114.28 L221.30,1113.61 L221.47,1112.93 L221.64,1112.25 L221.81,1111.58 L221.98,1110.90 L222.16,1110.22 L222.33,1109.55 L222.51,1108.87 L222.68,1108.19 L222.86,1107.52 L223.04,1106.84 L223.22,1106.16 L223.41,1105.49 L223.59,1104.81 L223.78,1104.13 L223.96,1103.45 L224.15,1102.78 L224.34,1102.10 L224.53,1101.42 L224.73,1100.75 L224.92,1100.07 L225.12,1099.39 L225.32,1098.72 L225.52,1098.04 L225.72,1097.36 L225.92,1096.69 L226.12,1096.01 L226.33,1095.33 L226.54,1094.66 L226.75,1093.98 L226.96,1093.30 L227.17,1092.63 L227.38,1091.95 L227.60,1091.27 L227.81,1090.59 L228.03,1089.92 L228.25,1089.24 L228.48,1088.56 L228.70,1087.89 L228.93,1087.21 L229.15,1086.53 L229.38,1085.86 L229.62,1085.18 L229.85,1084.50 L230.08,1083.83 L230.32,1083.15 L230.56,1082.47 L230.80,1081.80 L231.04,1081.12 L231.29,1080.44 L231.53,1079.77 L231.78,1079.09 L232.03,1078.41 L232.28,1077.73 L232.54,1077.06 L232.79,1076.38 L233.05,1075.70 L233.31,1075.03 L233.58,1074.35 L233.84,1073.67 L234.11,1073.00 L234.37,1072.32 L234.64,1071.64 L234.92,1070.97 L235.19,1070.29 L235.47,1069.61 L235.75,1068.94 L236.03,1068.26 L236.31,1067.58 L236.60,1066.91 L236.89,1066.23 L237.18,1065.55 L237.47,1064.87 L237.77,1064.20 L238.06,1063.52 L238.36,1062.84 L238.67,1062.17 L238.97,1061.49 L239.28,1060.81 L239.59,1060.14 L239.90,1059.46 L240.21,1058.78 L240.53,1058.11 L240.85,1057.43 L241.17,1056.75 L241.49,1056.08 L241.82,1055.40 L242.15,1054.72 L242.48,1054.05 L242.82,1053.37 L243.15,1052.69 L243.49,1052.01 L243.83,1051.34 L244.18,1050.66 L244.53,1049.98 L244.88,1049.31 L245.23,1048.63 L245.59,1047.95 L245.95,1047.28 L246.31,1046.60 L246.67,1045.92 L247.04,1045.25 L247.41,1044.57 L247.78,1043.89 L248.16,1043.22 L248.54,1042.54 L248.92,1041.86 L249.31,1041.19 L249.69,1040.51 L250.09,1039.83 L250.48,1039.15 L250.88,1038.48 L251.28,1037.80 L251.68,1037.12 L252.09,1036.45 L252.50,1035.77 L252.91,1035.09 L253.33,1034.42 L253.75,1033.74 L254.17,1033.06 L254.60,1032.39 L255.03,1031.71 L255.46,1031.03 L255.90,1030.36 L256.34,1029.68 L256.78,1029.00 L257.23,1028.33 L257.68,1027.65 L258.13,1026.97 L258.59,1026.30 L259.05,1025.62 L259.52,1024.94 L259.99,1024.26 L260.46,1023.59 L260.93,1022.91 L261.41,1022.23 L261.90,1021.56 L262.38,1020.88 L262.88,1020.20 L263.37,1019.53 L263.87,1018.85 L264.37,1018.17 L264.88,1017.50 L265.39,1016.82 L265.90,1016.14 L266.42,1015.47 L266.95,1014.79 L267.47,1014.11 L268.00,1013.44 L268.54,1012.76 L269.08,1012.08 L269.62,1011.40 L270.17,1010.73 L270.72,1010.05 L271.28,1009.37 L271.84,1008.70 L272.41,1008.02 L272.98,1007.34 L273.55,1006.67 L274.13,1005.99 L274.72,1005.31 L275.30,1004.64 L275.90,1003.96 L276.49,1003.28 L277.10,1002.61 L277.70,1001.93 L278.31,1001.25 L278.93,1000.58 L279.55,999.90 L280.18,999.22 L280.81,998.54 L281.45,997.87 L282.09,997.19 L282.73,996.51 L283.39,995.84 L284.04,995.16 L284.70,994.48 L285.37,993.81 L286.04,993.13 L286.72,992.45 L287.40,991.78 L288.09,991.10 L288.78,990.42 L289.48,989.75 L290.19,989.07 L290.90,988.39 L291.61,987.72 L292.33,987.04 L293.06,986.36 L293.79,985.68 L294.53,985.01 L295.28,984.33 L296.03,983.65 L296.78,982.98 L297.55,982.30 L298.31,981.62 L299.09,980.95 L299.87,980.27 L300.65,979.59 L301.45,978.92 L302.24,978.24 L303.05,977.56 L303.86,976.89 L304.68,976.21 L305.50,975.53 L306.33,974.86 L307.17,974.18 L308.01,973.50 L308.86,972.82 L309.72,972.15 L310.59,971.47 L311.46,970.79 L312.33,970.12 L313.22,969.44 L314.11,968.76 L315.01,968.09 L315.91,967.41 L316.83,966.73 L317.75,966.06 L318.67,965.38 L319.61,964.70 L320.55,964.03 L321.50,963.35 L322.45,962.67 L323.42,962.00 L324.39,961.32 L325.37,960.64 L326.36,959.96 L327.35,959.29 L328.35,958.61 L329.36,957.93 L330.38,957.26 L331.41,956.58 L332.44,955.90 L333.49,955.23 L334.54,954.55 L335.60,953.87 L336.66,953.20 L337.74,952.52 L338.82,951.84 L339.92,951.17 L341.02,950.49 L342.13,949.81 L343.25,949.14 L344.38,948.46 L345.51,947.78 L346.66,947.10 L347.81,946.43 L348.98,945.75 L350.15,945.07 L351.33,944.40 L352.52,943.72 L353.72,943.04 L354.93,942.37 L356.15,941.69 L357.38,941.01 L358.62,940.34 L359.87,939.66 L361.13,938.98 L362.40,938.31 L363.68,937.63 L364.97,936.95 L366.26,936.28 L367.57,935.60 L368.89,934.92 L370.22,934.24 L371.56,933.57 L372.91,932.89 L374.27,932.21 L375.65,931.54 L377.03,930.86 L378.42,930.18 L379.83,929.51 L381.24,928.83 L382.67,928.15 L384.11,927.48 L385.56,926.80 L387.02,926.12 L388.49,925.45 L389.98,924.77 L391.47,924.09 L392.98,923.42 L394.50,922.74 L396.03,922.06 L397.57,921.38 L399.13,920.71 L400.70,920.03 L402.28,919.35 L403.87,918.68 L405.47,918.00 L407.09,917.32 L408.72,916.65 L410.36,915.97 L412.02,915.29 L413.69,914.62 L415.37,913.94 L417.07,913.26 L418.78,912.59 L420.50,911.91 L422.24,911.23 L423.99,910.56 L425.75,909.88 L427.53,909.20 L429.32,908.52 L431.12,907.85 L432.94,907.17 L434.78,906.49 L436.62,905.82 L438.49,905.14 L440.37,904.46 L442.26,903.79 L444.16,903.11 L446.09,902.43 L448.02,901.76 L449.98,901.08 L451.95,900.40 L453.93,899.73 L455.93,899.05 L457.94,898.37 L459.97,897.70 L462.02,897.02 L464.08,896.34 L466.16,895.67 L468.26,894.99 L470.37,894.31 L472.50,893.63 L474.64,892.96 L476.81,892.28 L478.99,891.60 L481.18,890.93 L483.40,890.25 L485.63,889.57 L487.88,888.90 L490.14,888.22 L492.43,887.54 L494.73,886.87 L497.05,886.19 L499.39,885.51 L501.74,884.84 L504.12,884.16 L506.51,883.48 L508.93,882.81 L511.36,882.13 L513.81,881.45 L516.28,880.77 L518.77,880.10 L521.28,879.42 L523.81,878.74 L526.36,878.07 L528.93,877.39 L531.52,876.71 L534.13,876.04 L536.76,875.36 L539.41,874.68 L542.08,874.01 L544.78,873.33 L547.49,872.65 L550.23,871.98 L552.98,871.30 L555.76,870.62 L558.56,869.95 L561.39,869.27 L564.23,868.59 L567.10,867.91 L569.99,867.24 L572.90,866.56 L575.84,865.88 L578.80,865.21 L581.78,864.53 L584.79,863.85 L587.82,863.18 L590.87,862.50 L593.95,861.82 L597.05,861.15 L600.17,860.47 L603.32,859.79 L606.50,859.12 L609.70,858.44 L612.93,857.76 L616.18,857.09 L619.45,856.41 L622.75,855.73 L626.08,855.05 L629.44,854.38 L632.82,853.70 L636.23,853.02 L639.66,852.35 L643.12,851.67 L646.61,850.99 L650.13,850.32 L653.67,849.64 L657.24,848.96 L660.84,848.29 L664.47,847.61 L668.13,846.93 L671.81,846.26 L675.53,845.58 L679.27,844.90 L683.04,844.23 L686.85,843.55 L690.68,842.87 L694.54,842.19 L698.44,841.52 L702.36,840.84 L706.32,840.16 L710.30,839.49 L714.32,838.81 L718.37,838.13 L722.45,837.46 L726.56,836.78 L730.71,836.10 L734.89,835.43 L739.10,834.75 L743.34,834.07 L747.62,833.40 L751.93,832.72 L756.28,832.04 L760.66,831.37 L765.07,830.69 L769.52,830.01 L774.00,829.33 L778.52,828.66 L783.08,827.98 L787.67,827.30 L792.29,826.63 L796.96,825.95 L801.66,825.27 L806.39,824.60 L811.17,823.92 L815.98,823.24 L820.83,822.57 L825.72,821.89 L830.64,821.21 L835.61,820.54 L840.61,819.86 L845.66,819.18 L850.74,818.51 L855.86,817.83" stroke="#ffd8d8" stroke-width="0.7"/></g>
<g clip-path="url(#bclip)"><use href="#ball" x="200.00" y="1359.30"/><use href="#ball" x="222.29" y="1114.44"/><use href="#ball" x="296.23" y="987.87"/><use href="#ball" x="380.42" y="915.19"/><use href="#ball" x="561.59" y="874.82"/><use href="#ball" x="856.62" y="841.51"/></g>
<g clip-path="url(#bclip)" fill="none" stroke-linecap="butt"><path d="M200.02,1359.04 L200.05,1358.44 L200.09,1357.83 L200.12,1357.22 L200.16,1356.59 L200.20,1355.95 L200.24,1355.32 L200.27,1354.69 L200.31,1354.04 L200.35,1353.38 L200.39,1352.72 L200.43,1352.08 L200.47,1351.39 L200.51,1350.74 L200.55,1350.04 L200.59,1349.41 L200.63,1348.74 L200.68,1348.03 L200.71,1347.42 L200.75,1346.78 L200.79,1346.11 L200.84,1345.41 L200.88,1344.67 L200.93,1343.89 L200.97,1343.28 L201.01,1342.64 L201.05,1341.99 L201.09,1341.30 L201.14,1340.59 L201.19,1339.86 L201.23,1339.09 L201.28,1338.30 L201.34,1337.47 L201.39,1336.62 L201.45,1335.73 L201.49,1335.12 L201.53,1334.50 L201.57,1333.86 L201.61,1333.21 L201.66,1332.54 L201.70,1331.85 L201.75,1331.15 L201.79,1330.42 L201.84,1329.69 L201.89,1328.93 L201.94,1328.16 L202.00,1327.36 L202.05,1326.55 L202.11,1325.72 L202.16,1324.87 L202.22,1324.00 L202.28,1323.11 L202.34,1322.20 L202.41,1321.27 L202.47,1320.31 L202.54,1319.34 L202.61,1318.34 L202.68,1317.32 L202.75,1316.27 L202.82,1315.20 L202.90,1314.11 L202.98,1312.99 L203.06,1311.85 L203.14,1310.69 L203.23,1309.49 L203.27,1308.89 L203.32,1308.27 L203.36,1307.65 L203.40,1307.03 L203.45,1306.39 L203.50,1305.75 L203.54,1305.11 L203.59,1304.45 L203.64,1303.79 L203.69,1303.13 L203.74,1302.45 L203.79,1301.77 L203.84,1301.08 L203.89,1300.38 L203.94,1299.68 L204.00,1298.97 L204.05,1298.25 L204.10,1297.53 L204.16,1296.79 L204.22,1296.05 L204.27,1295.30 L204.33,1294.55 L204.39,1293.78 L204.45,1293.01 L204.51,1292.23 L204.57,1291.45 L204.63,1290.65 L204.69,1289.85 L204.75,1289.04 L204.82,1288.22 L204.88,1287.39 L204.95,1286.56 L205.02,1285.72 L205.08,1284.86 L205.15,1284.01 L205.22,1283.14 L205.29,1282.26 L205.36,1281.38 L205.43,1280.48 L205.51,1279.58 L205.58,1278.67 L205.66,1277.76 L205.73,1276.83 L205.81,1275.89 L205.89,1274.95 L205.97,1274.00 L206.05,1273.04 L206.13,1272.07 L206.21,1271.09 L206.29,1270.10 L206.38,1269.10 L206.46,1268.10 L206.55,1267.08 L206.64,1266.06 L206.73,1265.03 L206.82,1263.99 L206.91,1262.94 L207.00,1261.88 L207.10,1260.81 L207.19,1259.73 L207.29,1258.65 L207.39,1257.55 L207.49,1256.45 L207.59,1255.33 L207.69,1254.21 L207.79,1253.08 L207.90,1251.94 L208.00,1250.79 L208.11,1249.63 L208.22,1248.46 L208.33,1247.29 L208.44,1246.10 L208.56,1244.90 L208.67,1243.70 L208.79,1242.48 L208.90,1241.26 L209.02,1240.03 L209.15,1238.79 L209.27,1237.54 L209.39,1236.28 L209.52,1235.01 L209.65,1233.73 L209.78,1232.44 L209.91,1231.15 L210.04,1229.84 L210.18,1228.53 L210.31,1227.21 L210.45,1225.87 L210.59,1224.53 L210.74,1223.18 L210.88,1221.83 L211.03,1220.46 L211.17,1219.08 L211.32,1217.70 L211.48,1216.30 L211.63,1214.90 L211.79,1213.49 L211.95,1212.07 L212.11,1210.64 L212.27,1209.21 L212.43,1207.76 L212.60,1206.31 L212.77,1204.85 L212.94,1203.38 L213.12,1201.90 L213.29,1200.41 L213.47,1198.92 L213.65,1197.42 L213.83,1195.91 L214.02,1194.39 L214.21,1192.86 L214.40,1191.33 L214.59,1189.79 L214.79,1188.24 L214.99,1186.68 L215.19,1185.12 L215.39,1183.55 L215.60,1181.97 L215.81,1180.39 L216.02,1178.80 L216.24,1177.20 L216.46,1175.59 L216.68,1173.98 L216.90,1172.36 L217.13,1170.73 L217.36,1169.10 L217.59,1167.46 L217.83,1165.82 L218.07,1164.17 L218.31,1162.51 L218.56,1160.85 L218.81,1159.18 L219.06,1157.51 L219.32,1155.83 L219.58,1154.15 L219.84,1152.46 L220.11,1150.76 L220.38,1149.07 L220.65,1147.36 L220.93,1145.65 L221.21,1143.94 L221.49,1142.22 L221.78,1140.50 L222.08,1138.77 L222.37,1137.04 L222.67,1135.31 L222.98,1133.57 L223.29,1131.83 L223.60,1130.08 L223.92,1128.34 L224.24,1126.58 L224.57,1124.83 L224.90,1123.07 L225.23,1121.31 L225.57,1119.55 L225.91,1117.78 L226.26,1116.02 L226.61,1114.25 L226.97,1112.48 L227.33,1110.70 L227.70,1108.93 L228.07,1107.15 L228.45,1105.38 L228.83,1103.60 L229.22,1101.82 L229.61,1100.04 L230.01,1098.26 L230.42,1096.47 L230.82,1094.69 L231.24,1092.91 L231.66,1091.13 L232.08,1089.35 L232.52,1087.56 L232.95,1085.78 L233.40,1084.00 L233.84,1082.22 L234.30,1080.44 L234.76,1078.66 L235.23,1076.89 L235.70,1075.11 L236.18,1073.34 L236.67,1071.56 L237.16,1069.79 L237.66,1068.03 L238.17,1066.26 L238.68,1064.49 L239.20,1062.73 L239.73,1060.97 L240.26,1059.22 L240.80,1057.46 L241.35,1055.71 L241.91,1053.97 L242.47,1052.22 L243.04,1050.48 L243.62,1048.75 L244.20,1047.01 L244.80,1045.28 L245.40,1043.56 L246.01,1041.84 L246.63,1040.12 L247.26,1038.41 L247.89,1036.70 L248.54,1035.00 L249.19,1033.30 L249.85,1031.61 L250.52,1029.92 L251.20,1028.24 L251.89,1026.56 L252.58,1024.89 L253.29,1023.23 L254.01,1021.57 L254.73,1019.91 L255.47,1018.26 L256.21,1016.62 L256.97,1014.99 L257.74,1013.36 L258.51,1011.73 L259.30,1010.12 L260.10,1008.51 L260.90,1006.90 L261.72,1005.31 L262.55,1003.72 L263.39,1002.14 L264.24,1000.56 L265.11,998.99 L265.98,997.43 L266.87,995.88 L267.77,994.33 L268.68,992.79 L269.60,991.26 L270.54,989.74 L271.49,988.23 L272.45,986.72 L273.42,985.22 L274.41,983.73 L275.41,982.24 L276.42,980.77 L277.45,979.30 L278.49,977.84 L279.55,976.39 L280.61,974.95 L281.70,973.52 L282.80,972.09 L283.91,970.68 L285.04,969.27 L286.18,967.87 L287.34,966.48 L288.51,965.10 L289.70,963.72 L290.91,962.36 L292.13,961.00 L293.37,959.66 L294.62,958.32 L295.89,956.99 L297.18,955.67 L298.49,954.36 L299.81,953.06 L301.16,951.77 L302.52,950.48 L303.89,949.21 L305.29,947.94 L306.71,946.69 L308.14,945.44 L309.59,944.20 L311.07,942.97 L312.56,941.75 L314.07,940.54 L315.61,939.34 L317.16,938.15 L318.73,936.96 L320.33,935.79 L321.95,934.62 L323.59,933.47 L325.25,932.32 L326.93,931.18 L328.64,930.06 L330.37,928.94 L332.12,927.83 L333.89,926.73 L335.69,925.63 L337.52,924.55 L339.37,923.48 L341.24,922.41 L343.14,921.36 L345.06,920.31 L347.01,919.27 L348.99,918.24 L350.99,917.22 L353.02,916.21 L355.08,915.21 L357.16,914.22 L359.27,913.23 L361.42,912.26 L363.59,911.29 L365.78,910.33 L368.01,909.38 L370.27,908.44 L372.56,907.51 L374.88,906.58 L377.23,905.67 L379.61,904.76 L382.03,903.86 L384.47,902.97 L386.95,902.09 L389.47,901.22 L392.01,900.35 L394.59,899.50 L397.21,898.65 L399.86,897.81 L402.55,896.98 L405.27,896.15 L408.03,895.34 L410.82,894.53 L413.66,893.73 L416.53,892.94 L419.44,892.15 L422.39,891.38 L425.38,890.61 L428.41,889.85 L431.48,889.09 L434.59,888.35 L437.74,887.61 L440.94,886.88 L444.18,886.16 L447.46,885.44 L450.79,884.73 L454.16,884.03 L457.57,883.34 L461.04,882.65 L464.54,881.97 L468.10,881.30 L471.70,880.64 L475.36,879.98 L479.06,879.33 L482.81,878.68 L486.61,878.05 L490.46,877.41 L494.37,876.79 L498.32,876.17 L502.33,875.56 L506.40,874.96 L510.52,874.36 L514.69,873.77 L518.92,873.19 L523.21,872.61 L527.55,872.04 L531.95,871.47 L536.42,870.91 L540.94,870.36 L545.52,869.81 L550.16,869.27 L554.87,868.73 L559.64,868.21 L564.48,867.68 L569.38,867.16 L574.34,866.65 L579.37,866.15 L584.47,865.65 L589.64,865.15 L594.88,864.66 L600.18,864.18 L605.56,863.70 L611.01,863.23 L616.54,862.76 L622.14,862.30 L627.81,861.85 L633.56,861.39 L639.39,860.95 L645.30,860.51 L651.28,860.07 L657.35,859.64 L663.50,859.21 L669.73,858.79 L676.04,858.38 L682.44,857.97 L688.92,857.56 L695.50,857.16 L702.16,856.76 L708.91,856.37 L715.75,855.98 L722.68,855.60 L729.70,855.22 L736.82,854.85 L744.04,854.48 L751.35,854.11 L758.76,853.75 L766.27,853.39 L773.89,853.04 L781.60,852.69 L789.42,852.35 L797.34,852.01 L805.37,851.67 L813.51,851.34 L821.75,851.01 L830.11,850.69 L838.58,850.37 L847.16,850.05 L855.86,849.74" stroke="#000" stroke-width="2.3" stroke-dasharray="10.4 10.4"/><path d="M200.00,1346.16 L200.00,1345.53 L200.00,1344.87 L200.00,1344.25 L200.00,1343.61 L200.00,1342.93 L200.00,1342.31 L200.00,1341.66 L200.00,1340.99 L200.00,1340.38 L200.00,1339.75 L200.00,1339.10 L200.00,1338.43 L200.00,1337.74 L200.00,1337.13 L200.00,1336.50 L200.00,1335.85 L200.00,1335.18 L200.00,1334.49 L200.00,1333.79 L200.00,1333.19 L200.00,1332.57 L200.00,1331.94 L200.00,1331.29 L200.00,1330.63 L200.00,1329.95 L200.00,1329.26 L200.00,1328.55 L200.00,1327.82 L200.00,1327.08 L200.00,1326.47 L200.00,1325.85 L200.00,1325.22 L200.00,1324.57 L200.00,1323.92 L200.00,1323.25 L200.00,1322.57 L200.00,1321.88 L200.00,1321.17 L200.00,1320.45 L200.00,1319.72 L200.00,1318.97 L200.00,1318.21 L200.00,1317.44 L200.00,1316.65 L200.00,1316.05 L200.00,1315.44 L200.00,1314.82 L200.00,1314.19 L200.01,1313.55 L200.01,1312.91 L200.01,1312.25 L200.01,1311.59 L200.01,1310.91 L200.01,1310.23 L200.01,1309.54 L200.01,1308.84 L200.01,1308.12 L200.01,1307.40 L200.01,1306.67 L200.01,1305.93 L200.01,1305.17 L200.01,1304.41 L200.01,1303.63 L200.01,1302.85 L200.02,1302.05 L200.02,1301.24 L200.02,1300.42 L200.02,1299.59 L200.02,1298.75 L200.02,1297.90 L200.02,1297.03 L200.02,1296.15 L200.03,1295.26 L200.03,1294.66 L200.03,1294.05 L200.03,1293.44 L200.03,1292.82 L200.03,1292.20 L200.03,1291.57 L200.04,1290.93 L200.04,1290.29 L200.04,1289.64 L200.04,1288.99 L200.04,1288.33 L200.04,1287.66 L200.05,1286.99 L200.05,1286.31 L200.05,1285.62 L200.05,1284.93 L200.05,1284.23 L200.06,1283.53 L200.06,1282.82 L200.06,1282.10 L200.07,1281.37 L200.07,1280.64 L200.07,1279.90 L200.07,1279.16 L200.08,1278.41 L200.08,1277.65 L200.09,1276.88 L200.09,1276.11 L200.09,1275.33 L200.10,1274.54 L200.10,1273.74 L200.11,1272.94 L200.11,1272.13 L200.12,1271.31 L200.12,1270.48 L200.13,1269.65 L200.13,1268.81 L200.14,1267.96 L200.14,1267.10 L200.15,1266.23 L200.16,1265.36 L200.16,1264.48 L200.17,1263.59 L200.18,1262.69 L200.19,1261.78 L200.20,1260.87 L200.21,1259.94 L200.21,1259.01 L200.22,1258.07 L200.23,1257.12 L200.24,1256.16 L200.26,1255.19 L200.27,1254.21 L200.28,1253.23 L200.29,1252.23 L200.31,1251.23 L200.32,1250.21 L200.33,1249.19 L200.35,1248.15 L200.36,1247.11 L200.38,1246.06 L200.40,1244.99 L200.41,1243.92 L200.43,1242.84 L200.45,1241.74 L200.47,1240.64 L200.49,1239.53 L200.52,1238.40 L200.54,1237.27 L200.56,1236.12 L200.59,1234.96 L200.62,1233.80 L200.64,1232.62 L200.67,1231.43 L200.70,1230.23 L200.72,1229.62 L200.73,1229.02 L200.75,1228.41 L200.77,1227.79 L200.79,1227.18 L200.80,1226.56 L200.82,1225.94 L200.84,1225.31 L200.86,1224.69 L200.88,1224.06 L200.90,1223.42 L200.92,1222.79 L200.94,1222.15 L200.96,1221.50 L200.98,1220.86 L201.00,1220.21 L201.02,1219.56 L201.04,1218.91 L201.07,1218.25 L201.09,1217.59 L201.12,1216.92 L201.14,1216.26 L201.17,1215.59 L201.19,1214.91 L201.22,1214.24 L201.25,1213.56 L201.27,1212.88 L201.30,1212.19 L201.33,1211.50 L201.36,1210.81 L201.39,1210.11 L201.42,1209.41 L201.45,1208.71 L201.49,1208.01 L201.52,1207.30 L201.55,1206.59 L201.59,1205.87 L201.62,1205.15 L201.66,1204.43 L201.69,1203.71 L201.73,1202.98 L201.77,1202.25 L201.81,1201.51 L201.85,1200.77 L201.89,1200.03 L201.93,1199.28 L201.98,1198.53 L202.02,1197.78 L202.07,1197.02 L202.11,1196.26 L202.16,1195.50 L202.21,1194.73 L202.26,1193.96 L202.31,1193.19 L202.36,1192.41 L202.41,1191.63 L202.46,1190.84 L202.52,1190.06 L202.57,1189.26 L202.63,1188.47 L202.69,1187.67 L202.75,1186.86 L202.81,1186.05 L202.87,1185.24 L202.94,1184.43 L203.00,1183.61 L203.07,1182.79 L203.14,1181.96 L203.21,1181.13 L203.28,1180.30 L203.35,1179.46 L203.43,1178.61 L203.50,1177.77 L203.58,1176.92 L203.66,1176.06 L203.74,1175.21 L203.82,1174.34 L203.91,1173.48 L203.99,1172.61 L204.08,1171.73 L204.17,1170.85 L204.27,1169.97 L204.36,1169.09 L204.46,1168.19 L204.56,1167.30 L204.66,1166.40 L204.76,1165.50 L204.87,1164.59 L204.98,1163.68 L205.09,1162.76 L205.20,1161.84 L205.32,1160.92 L205.43,1159.99 L205.56,1159.05 L205.68,1158.12 L205.81,1157.17 L205.93,1156.23 L206.07,1155.28 L206.20,1154.32 L206.34,1153.36 L206.48,1152.40 L206.62,1151.43 L206.77,1150.45 L206.92,1149.48 L207.08,1148.49 L207.23,1147.51 L207.39,1146.51 L207.56,1145.52 L207.73,1144.52 L207.90,1143.51 L208.07,1142.50 L208.25,1141.49 L208.44,1140.47 L208.62,1139.44 L208.82,1138.41 L209.01,1137.38 L209.21,1136.34 L209.42,1135.29 L209.63,1134.24 L209.84,1133.19 L210.06,1132.13 L210.28,1131.07 L210.51,1130.00 L210.74,1128.92 L210.98,1127.85 L211.23,1126.76 L211.48,1125.67 L211.73,1124.58 L211.99,1123.48 L212.26,1122.37 L212.53,1121.27 L212.81,1120.15 L213.10,1119.03 L213.39,1117.91 L213.68,1116.77 L213.99,1115.64 L214.30,1114.50 L214.62,1113.35 L214.94,1112.20 L215.27,1111.04 L215.61,1109.88 L215.96,1108.71 L216.32,1107.54 L216.68,1106.36 L217.05,1105.17 L217.43,1103.98 L217.82,1102.79 L218.21,1101.59 L218.62,1100.38 L219.03,1099.17 L219.45,1097.95 L219.89,1096.73 L220.33,1095.50 L220.78,1094.26 L221.24,1093.02 L221.71,1091.77 L222.20,1090.52 L222.69,1089.26 L223.20,1088.00 L223.71,1086.73 L224.24,1085.45 L224.78,1084.17 L225.33,1082.88 L225.89,1081.58 L226.47,1080.28 L227.05,1078.98 L227.66,1077.66 L228.27,1076.34 L228.90,1075.02 L229.54,1073.69 L230.20,1072.35 L230.87,1071.01 L231.56,1069.66 L232.26,1068.30 L232.98,1066.94 L233.71,1065.57 L234.46,1064.19 L235.22,1062.81 L236.01,1061.42 L236.81,1060.03 L237.63,1058.63 L238.46,1057.22 L239.32,1055.80 L240.19,1054.38 L241.08,1052.95 L242.00,1051.52 L242.93,1050.08 L243.89,1048.63 L244.86,1047.17 L245.86,1045.71 L246.88,1044.24 L247.92,1042.77 L248.98,1041.29 L250.07,1039.80 L251.19,1038.30 L252.32,1036.80 L253.49,1035.29 L254.68,1033.77 L255.89,1032.25 L257.14,1030.71 L258.41,1029.18 L259.70,1027.63 L261.03,1026.08 L262.39,1024.52 L263.77,1022.95 L265.19,1021.37 L266.64,1019.79 L268.12,1018.20 L269.64,1016.60 L271.19,1015.00 L272.77,1013.39 L274.39,1011.77 L276.04,1010.14 L277.73,1008.50 L279.46,1006.86 L281.22,1005.21 L283.03,1003.55 L284.88,1001.89 L286.76,1000.21 L288.69,998.53 L290.66,996.84 L292.68,995.14 L294.74,993.44 L296.84,991.72 L299.00,990.00 L301.20,988.27 L303.45,986.54 L305.75,984.79 L308.10,983.04 L310.50,981.27 L312.96,979.50 L315.47,977.72 L318.04,975.94 L320.66,974.14 L323.34,972.34 L326.08,970.53 L328.89,968.71 L331.75,966.88 L334.68,965.04 L337.67,963.19 L340.73,961.34 L343.86,959.47 L347.06,957.60 L350.33,955.72 L353.67,953.83 L357.09,951.93 L360.58,950.02 L364.15,948.11 L367.80,946.18 L371.53,944.25 L375.34,942.30 L379.24,940.35 L383.23,938.39 L387.30,936.42 L391.46,934.44 L395.72,932.45 L400.07,930.45 L404.52,928.44 L409.06,926.42 L413.71,924.39 L418.46,922.36 L423.32,920.31 L428.28,918.26 L433.36,916.19 L438.55,914.11 L443.85,912.03 L449.27,909.94 L454.81,907.83 L460.48,905.72 L466.27,903.59 L472.18,901.46 L478.24,899.31 L484.42,897.16 L490.74,895.00 L497.21,892.82 L503.81,890.64 L510.57,888.44 L517.47,886.24 L524.53,884.02 L531.74,881.80 L539.12,879.56 L546.66,877.31 L554.36,875.06 L562.24,872.79 L570.29,870.51 L578.53,868.22 L586.94,865.92 L595.54,863.61 L604.33,861.29 L613.32,858.96 L622.51,856.61 L631.90,854.26 L641.51,851.89 L651.32,849.52 L661.35,847.13 L671.61,844.73 L682.09,842.32 L692.81,839.90 L703.77,837.47 L714.96,835.02 L726.41,832.57 L738.11,830.10 L750.08,827.62 L762.31,825.13 L774.81,822.63 L787.58,820.12 L800.65,817.59 L814.00,815.06 L827.65,812.51 L841.60,809.95 L855.86,807.38" stroke="#0000ff" stroke-width="2.5" stroke-linecap="round" stroke-dasharray="0.9 11.58"/><path d="M201.24,1359.30 L201.25,1358.62 L201.26,1357.95 L201.27,1357.27 L201.28,1356.59 L201.29,1355.92 L201.30,1355.24 L201.31,1354.56 L201.32,1353.89 L201.33,1353.21 L201.34,1352.53 L201.35,1351.85 L201.36,1351.18 L201.37,1350.50 L201.38,1349.82 L201.39,1349.15 L201.40,1348.47 L201.41,1347.79 L201.42,1347.12 L201.44,1346.44 L201.45,1345.76 L201.46,1345.09 L201.47,1344.41 L201.48,1343.73 L201.49,1343.06 L201.50,1342.38 L201.52,1341.70 L201.53,1341.03 L201.54,1340.35 L201.55,1339.67 L201.56,1338.99 L201.58,1338.32 L201.59,1337.64 L201.60,1336.96 L201.61,1336.29 L201.63,1335.61 L201.64,1334.93 L201.65,1334.26 L201.67,1333.58 L201.68,1332.90 L201.69,1332.23 L201.71,1331.55 L201.72,1330.87 L201.73,1330.20 L201.75,1329.52 L201.76,1328.84 L201.77,1328.17 L201.79,1327.49 L201.80,1326.81 L201.82,1326.13 L201.83,1325.46 L201.84,1324.78 L201.86,1324.10 L201.87,1323.43 L201.89,1322.75 L201.90,1322.07 L201.92,1321.40 L201.93,1320.72 L201.95,1320.04 L201.96,1319.37 L201.98,1318.69 L201.99,1318.01 L202.01,1317.34 L202.03,1316.66 L202.04,1315.98 L202.06,1315.31 L202.07,1314.63 L202.09,1313.95 L202.11,1313.27 L202.12,1312.60 L202.14,1311.92 L202.16,1311.24 L202.17,1310.57 L202.19,1309.89 L202.21,1309.21 L202.23,1308.54 L202.24,1307.86 L202.26,1307.18 L202.28,1306.51 L202.30,1305.83 L202.32,1305.15 L202.33,1304.48 L202.35,1303.80 L202.37,1303.12 L202.39,1302.45 L202.41,1301.77 L202.43,1301.09 L202.45,1300.41 L202.47,1299.74 L202.48,1299.06 L202.50,1298.38 L202.52,1297.71 L202.54,1297.03 L202.56,1296.35 L202.58,1295.68 L202.60,1295.00 L202.63,1294.32 L202.65,1293.65 L202.67,1292.97 L202.69,1292.29 L202.71,1291.62 L202.73,1290.94 L202.75,1290.26 L202.77,1289.59 L202.79,1288.91 L202.82,1288.23 L202.84,1287.56 L202.86,1286.88 L202.88,1286.20 L202.91,1285.52 L202.93,1284.85 L202.95,1284.17 L202.98,1283.49 L203.00,1282.82 L203.02,1282.14 L203.05,1281.46 L203.07,1280.79 L203.09,1280.11 L203.12,1279.43 L203.14,1278.76 L203.17,1278.08 L203.19,1277.40 L203.22,1276.73 L203.24,1276.05 L203.27,1275.37 L203.30,1274.70 L203.32,1274.02 L203.35,1273.34 L203.37,1272.66 L203.40,1271.99 L203.43,1271.31 L203.45,1270.63 L203.48,1269.96 L203.51,1269.28 L203.54,1268.60 L203.56,1267.93 L203.59,1267.25 L203.62,1266.57 L203.65,1265.90 L203.68,1265.22 L203.71,1264.54 L203.74,1263.87 L203.77,1263.19 L203.79,1262.51 L203.82,1261.84 L203.85,1261.16 L203.89,1260.48 L203.92,1259.80 L203.95,1259.13 L203.98,1258.45 L204.01,1257.77 L204.04,1257.10 L204.07,1256.42 L204.10,1255.74 L204.14,1255.07 L204.17,1254.39 L204.20,1253.71 L204.24,1253.04 L204.27,1252.36 L204.30,1251.68 L204.34,1251.01 L204.37,1250.33 L204.40,1249.65 L204.44,1248.98 L204.47,1248.30 L204.51,1247.62 L204.55,1246.94 L204.58,1246.27 L204.62,1245.59 L204.65,1244.91 L204.69,1244.24 L204.73,1243.56 L204.76,1242.88 L204.80,1242.21 L204.84,1241.53 L204.88,1240.85 L204.92,1240.18 L204.95,1239.50 L204.99,1238.82 L205.03,1238.15 L205.07,1237.47 L205.11,1236.79 L205.15,1236.12 L205.19,1235.44 L205.23,1234.76 L205.28,1234.08 L205.32,1233.41 L205.36,1232.73 L205.40,1232.05 L205.44,1231.38 L205.49,1230.70 L205.53,1230.02 L205.57,1229.35 L205.62,1228.67 L205.66,1227.99 L205.71,1227.32 L205.75,1226.64 L205.80,1225.96 L205.84,1225.29 L205.89,1224.61 L205.93,1223.93 L205.98,1223.26 L206.03,1222.58 L206.08,1221.90 L206.12,1221.22 L206.17,1220.55 L206.22,1219.87 L206.27,1219.19 L206.32,1218.52 L206.37,1217.84 L206.42,1217.16 L206.47,1216.49 L206.52,1215.81 L206.57,1215.13 L206.62,1214.46 L206.67,1213.78 L206.73,1213.10 L206.78,1212.43 L206.83,1211.75 L206.89,1211.07 L206.94,1210.40 L207.00,1209.72 L207.05,1209.04 L207.11,1208.36 L207.16,1207.69 L207.22,1207.01 L207.28,1206.33 L207.33,1205.66 L207.39,1204.98 L207.45,1204.30 L207.51,1203.63 L207.57,1202.95 L207.63,1202.27 L207.69,1201.60 L207.75,1200.92 L207.81,1200.24 L207.87,1199.57 L207.93,1198.89 L207.99,1198.21 L208.06,1197.54 L208.12,1196.86 L208.18,1196.18 L208.25,1195.50 L208.31,1194.83 L208.38,1194.15 L208.44,1193.47 L208.51,1192.80 L208.58,1192.12 L208.65,1191.44 L208.71,1190.77 L208.78,1190.09 L208.85,1189.41 L208.92,1188.74 L208.99,1188.06 L209.06,1187.38 L209.13,1186.71 L209.21,1186.03 L209.28,1185.35 L209.35,1184.68 L209.42,1184.00 L209.50,1183.32 L209.57,1182.64 L209.65,1181.97 L209.73,1181.29 L209.80,1180.61 L209.88,1179.94 L209.96,1179.26 L210.04,1178.58 L210.11,1177.91 L210.19,1177.23 L210.27,1176.55 L210.35,1175.88 L210.44,1175.20 L210.52,1174.52 L210.60,1173.85 L210.68,1173.17 L210.77,1172.49 L210.85,1171.82 L210.94,1171.14 L211.03,1170.46 L211.11,1169.78 L211.20,1169.11 L211.29,1168.43 L211.38,1167.75 L211.47,1167.08 L211.56,1166.40 L211.65,1165.72 L211.74,1165.05 L211.83,1164.37 L211.92,1163.69 L212.02,1163.02 L212.11,1162.34 L212.21,1161.66 L212.30,1160.99 L212.40,1160.31 L212.50,1159.63 L212.60,1158.96 L212.70,1158.28 L212.80,1157.60 L212.90,1156.93 L213.00,1156.25 L213.10,1155.57 L213.20,1154.89 L213.31,1154.22 L213.41,1153.54 L213.52,1152.86 L213.63,1152.19 L213.73,1151.51 L213.84,1150.83 L213.95,1150.16 L214.06,1149.48 L214.17,1148.80 L214.28,1148.13 L214.39,1147.45 L214.51,1146.77 L214.62,1146.10 L214.74,1145.42 L214.85,1144.74 L214.97,1144.07 L215.09,1143.39 L215.21,1142.71 L215.33,1142.03 L215.45,1141.36 L215.57,1140.68 L215.69,1140.00 L215.81,1139.33 L215.94,1138.65 L216.06,1137.97 L216.19,1137.30 L216.32,1136.62 L216.45,1135.94 L216.58,1135.27 L216.71,1134.59 L216.84,1133.91 L216.97,1133.24 L217.10,1132.56 L217.24,1131.88 L217.38,1131.21 L217.51,1130.53 L217.65,1129.85 L217.79,1129.17 L217.93,1128.50 L218.07,1127.82 L218.21,1127.14 L218.36,1126.47 L218.50,1125.79 L218.65,1125.11 L218.79,1124.44 L218.94,1123.76 L219.09,1123.08 L219.24,1122.41 L219.39,1121.73 L219.54,1121.05 L219.70,1120.38 L219.85,1119.70 L220.01,1119.02 L220.17,1118.35 L220.33,1117.67 L220.49,1116.99 L220.65,1116.31 L220.81,1115.64 L220.97,1114.96 L221.14,1114.28 L221.30,1113.61 L221.47,1112.93 L221.64,1112.25 L221.81,1111.58 L221.98,1110.90 L222.16,1110.22 L222.33,1109.55 L222.51,1108.87 L222.68,1108.19 L222.86,1107.52 L223.04,1106.84 L223.22,1106.16 L223.41,1105.49 L223.59,1104.81 L223.78,1104.13 L223.96,1103.45 L224.15,1102.78 L224.34,1102.10 L224.53,1101.42 L224.73,1100.75 L224.92,1100.07 L225.12,1099.39 L225.32,1098.72 L225.52,1098.04 L225.72,1097.36 L225.92,1096.69 L226.12,1096.01 L226.33,1095.33 L226.54,1094.66 L226.75,1093.98 L226.96,1093.30 L227.17,1092.63 L227.38,1091.95 L227.60,1091.27 L227.81,1090.59 L228.03,1089.92 L228.25,1089.24 L228.48,1088.56 L228.70,1087.89 L228.93,1087.21 L229.15,1086.53 L229.38,1085.86 L229.62,1085.18 L229.85,1084.50 L230.08,1083.83 L230.32,1083.15 L230.56,1082.47 L230.80,1081.80 L231.04,1081.12 L231.29,1080.44 L231.53,1079.77 L231.78,1079.09 L232.03,1078.41 L232.28,1077.73 L232.54,1077.06 L232.79,1076.38 L233.05,1075.70 L233.31,1075.03 L233.58,1074.35 L233.84,1073.67 L234.11,1073.00 L234.37,1072.32 L234.64,1071.64 L234.92,1070.97 L235.19,1070.29 L235.47,1069.61 L235.75,1068.94 L236.03,1068.26 L236.31,1067.58 L236.60,1066.91 L236.89,1066.23 L237.18,1065.55 L237.47,1064.87 L237.77,1064.20 L238.06,1063.52 L238.36,1062.84 L238.67,1062.17 L238.97,1061.49 L239.28,1060.81 L239.59,1060.14 L239.90,1059.46 L240.21,1058.78 L240.53,1058.11 L240.85,1057.43 L241.17,1056.75 L241.49,1056.08 L241.82,1055.40 L242.15,1054.72 L242.48,1054.05 L242.82,1053.37 L243.15,1052.69 L243.49,1052.01 L243.83,1051.34 L244.18,1050.66 L244.53,1049.98 L244.88,1049.31 L245.23,1048.63 L245.59,1047.95 L245.95,1047.28 L246.31,1046.60 L246.67,1045.92 L247.04,1045.25 L247.41,1044.57 L247.78,1043.89 L248.16,1043.22 L248.54,1042.54 L248.92,1041.86 L249.31,1041.19 L249.69,1040.51 L250.09,1039.83 L250.48,1039.15 L250.88,1038.48 L251.28,1037.80 L251.68,1037.12 L252.09,1036.45 L252.50,1035.77 L252.91,1035.09 L253.33,1034.42 L253.75,1033.74 L254.17,1033.06 L254.60,1032.39 L255.03,1031.71 L255.46,1031.03 L255.90,1030.36 L256.34,1029.68 L256.78,1029.00 L257.23,1028.33 L257.68,1027.65 L258.13,1026.97 L258.59,1026.30 L259.05,1025.62 L259.52,1024.94 L259.99,1024.26 L260.46,1023.59 L260.93,1022.91 L261.41,1022.23 L261.90,1021.56 L262.38,1020.88 L262.88,1020.20 L263.37,1019.53 L263.87,1018.85 L264.37,1018.17 L264.88,1017.50 L265.39,1016.82 L265.90,1016.14 L266.42,1015.47 L266.95,1014.79 L267.47,1014.11 L268.00,1013.44 L268.54,1012.76 L269.08,1012.08 L269.62,1011.40 L270.17,1010.73 L270.72,1010.05 L271.28,1009.37 L271.84,1008.70 L272.41,1008.02 L272.98,1007.34 L273.55,1006.67 L274.13,1005.99 L274.72,1005.31 L275.30,1004.64 L275.90,1003.96 L276.49,1003.28 L277.10,1002.61 L277.70,1001.93 L278.31,1001.25 L278.93,1000.58 L279.55,999.90 L280.18,999.22 L280.81,998.54 L281.45,997.87 L282.09,997.19 L282.73,996.51 L283.39,995.84 L284.04,995.16 L284.70,994.48 L285.37,993.81 L286.04,993.13 L286.72,992.45 L287.40,991.78 L288.09,991.10 L288.78,990.42 L289.48,989.75 L290.19,989.07 L290.90,988.39 L291.61,987.72 L292.33,987.04 L293.06,986.36 L293.79,985.68 L294.53,985.01 L295.28,984.33 L296.03,983.65 L296.78,982.98 L297.55,982.30 L298.31,981.62 L299.09,980.95 L299.87,980.27 L300.65,979.59 L301.45,978.92 L302.24,978.24 L303.05,977.56 L303.86,976.89 L304.68,976.21 L305.50,975.53 L306.33,974.86 L307.17,974.18 L308.01,973.50 L308.86,972.82 L309.72,972.15 L310.59,971.47 L311.46,970.79 L312.33,970.12 L313.22,969.44 L314.11,968.76 L315.01,968.09 L315.91,967.41 L316.83,966.73 L317.75,966.06 L318.67,965.38 L319.61,964.70 L320.55,964.03 L321.50,963.35 L322.45,962.67 L323.42,962.00 L324.39,961.32 L325.37,960.64 L326.36,959.96 L327.35,959.29 L328.35,958.61 L329.36,957.93 L330.38,957.26 L331.41,956.58 L332.44,955.90 L333.49,955.23 L334.54,954.55 L335.60,953.87 L336.66,953.20 L337.74,952.52 L338.82,951.84 L339.92,951.17 L341.02,950.49 L342.13,949.81 L343.25,949.14 L344.38,948.46 L345.51,947.78 L346.66,947.10 L347.81,946.43 L348.98,945.75 L350.15,945.07 L351.33,944.40 L352.52,943.72 L353.72,943.04 L354.93,942.37 L356.15,941.69 L357.38,941.01 L358.62,940.34 L359.87,939.66 L361.13,938.98 L362.40,938.31 L363.68,937.63 L364.97,936.95 L366.26,936.28 L367.57,935.60 L368.89,934.92 L370.22,934.24 L371.56,933.57 L372.91,932.89 L374.27,932.21 L375.65,931.54 L377.03,930.86 L378.42,930.18 L379.83,929.51 L381.24,928.83 L382.67,928.15 L384.11,927.48 L385.56,926.80 L387.02,926.12 L388.49,925.45 L389.98,924.77 L391.47,924.09 L392.98,923.42 L394.50,922.74 L396.03,922.06 L397.57,921.38 L399.13,920.71 L400.70,920.03 L402.28,919.35 L403.87,918.68 L405.47,918.00 L407.09,917.32 L408.72,916.65 L410.36,915.97 L412.02,915.29 L413.69,914.62 L415.37,913.94 L417.07,913.26 L418.78,912.59 L420.50,911.91 L422.24,911.23 L423.99,910.56 L425.75,909.88 L427.53,909.20 L429.32,908.52 L431.12,907.85 L432.94,907.17 L434.78,906.49 L436.62,905.82 L438.49,905.14 L440.37,904.46 L442.26,903.79 L444.16,903.11 L446.09,902.43 L448.02,901.76 L449.98,901.08 L451.95,900.40 L453.93,899.73 L455.93,899.05 L457.94,898.37 L459.97,897.70 L462.02,897.02 L464.08,896.34 L466.16,895.67 L468.26,894.99 L470.37,894.31 L472.50,893.63 L474.64,892.96 L476.81,892.28 L478.99,891.60 L481.18,890.93 L483.40,890.25 L485.63,889.57 L487.88,888.90 L490.14,888.22 L492.43,887.54 L494.73,886.87 L497.05,886.19 L499.39,885.51 L501.74,884.84 L504.12,884.16 L506.51,883.48 L508.93,882.81 L511.36,882.13 L513.81,881.45 L516.28,880.77 L518.77,880.10 L521.28,879.42 L523.81,878.74 L526.36,878.07 L528.93,877.39 L531.52,876.71 L534.13,876.04 L536.76,875.36 L539.41,874.68 L542.08,874.01 L544.78,873.33 L547.49,872.65 L550.23,871.98 L552.98,871.30 L555.76,870.62 L558.56,869.95 L561.39,869.27 L564.23,868.59 L567.10,867.91 L569.99,867.24 L572.90,866.56 L575.84,865.88 L578.80,865.21 L581.78,864.53 L584.79,863.85 L587.82,863.18 L590.87,862.50 L593.95,861.82 L597.05,861.15 L600.17,860.47 L603.32,859.79 L606.50,859.12 L609.70,858.44 L612.93,857.76 L616.18,857.09 L619.45,856.41 L622.75,855.73 L626.08,855.05 L629.44,854.38 L632.82,853.70 L636.23,853.02 L639.66,852.35 L643.12,851.67 L646.61,850.99 L650.13,850.32 L653.67,849.64 L657.24,848.96 L660.84,848.29 L664.47,847.61 L668.13,846.93 L671.81,846.26 L675.53,845.58 L679.27,844.90 L683.04,844.23 L686.85,843.55 L690.68,842.87 L694.54,842.19 L698.44,841.52 L702.36,840.84 L706.32,840.16 L710.30,839.49 L714.32,838.81 L718.37,838.13 L722.45,837.46 L726.56,836.78 L730.71,836.10 L734.89,835.43 L739.10,834.75 L743.34,834.07 L747.62,833.40 L751.93,832.72 L756.28,832.04 L760.66,831.37 L765.07,830.69 L769.52,830.01 L774.00,829.33 L778.52,828.66 L783.08,827.98 L787.67,827.30 L792.29,826.63 L796.96,825.95 L801.66,825.27 L806.39,824.60 L811.17,823.92 L815.98,823.24 L820.83,822.57 L825.72,821.89 L830.64,821.21 L835.61,820.54 L840.61,819.86 L845.66,819.18 L850.74,818.51 L855.86,817.83" stroke="#ff0000" stroke-width="2.3" stroke-dasharray="6.5 5.2"/></g>
<rect x="200" y="753.7" width="753" height="605.5999999999999" fill="none" stroke="#000" stroke-width="2.3" stroke-linejoin="round"/>
<path d="M188.5,1359.30H200 M194.3,1308.83H200 M188.5,1258.37H200 M194.3,1207.90H200 M188.5,1157.43H200 M194.3,1106.97H200 M188.5,1056.50H200 M194.3,1006.03H200 M188.5,955.57H200 M194.3,905.10H200 M188.5,854.63H200 M194.3,804.17H200 M188.5,753.70H200 M200.00,1359.3V1370.8 M275.30,1359.3V1365.0 M350.60,1359.3V1370.8 M425.90,1359.3V1365.0 M501.20,1359.3V1370.8 M576.50,1359.3V1365.0 M651.80,1359.3V1370.8 M727.10,1359.3V1365.0 M802.40,1359.3V1370.8 M877.70,1359.3V1365.0 M953.00,1359.3V1370.8" stroke="#000" stroke-width="2.3" fill="none"/>
<text transform="translate(180.3,1367.70) scale(0.965,1.03)" text-anchor="end" font-size="29.6" font-weight="bold">0</text>
<text transform="translate(180.3,1266.77) scale(0.965,1.03)" text-anchor="end" font-size="29.6" font-weight="bold">10</text>
<text transform="translate(180.3,1165.83) scale(0.965,1.03)" text-anchor="end" font-size="29.6" font-weight="bold">20</text>
<text transform="translate(180.3,1064.90) scale(0.965,1.03)" text-anchor="end" font-size="29.6" font-weight="bold">30</text>
<text transform="translate(180.3,963.97) scale(0.965,1.03)" text-anchor="end" font-size="29.6" font-weight="bold">40</text>
<text transform="translate(180.3,863.03) scale(0.965,1.03)" text-anchor="end" font-size="29.6" font-weight="bold">50</text>
<text transform="translate(180.3,762.10) scale(0.965,1.03)" text-anchor="end" font-size="29.6" font-weight="bold">60</text>
<text transform="translate(200.00,1401.3) scale(0.965,1.03)" text-anchor="middle" font-size="29.6" font-weight="bold">0</text>
<text transform="translate(350.60,1401.3) scale(0.965,1.03)" text-anchor="middle" font-size="29.6" font-weight="bold">1</text>
<text transform="translate(501.20,1401.3) scale(0.965,1.03)" text-anchor="middle" font-size="29.6" font-weight="bold">2</text>
<text transform="translate(651.80,1401.3) scale(0.965,1.03)" text-anchor="middle" font-size="29.6" font-weight="bold">3</text>
<text transform="translate(802.40,1401.3) scale(0.965,1.03)" text-anchor="middle" font-size="29.6" font-weight="bold">4</text>
<text transform="translate(953.00,1401.3) scale(0.965,1.03)" text-anchor="middle" font-size="29.6" font-weight="bold">5</text>
<text x="324.6" y="1454.9" font-size="34.6" font-weight="bold">Equiblirium concentration (mg/L)</text>
<text transform="translate(125.9,1255.3) rotate(-90)" font-size="34.2" font-weight="bold">Adsorption capacity (mg/g)</text>
<text x="1.2" y="767.5" font-size="40" font-weight="bold">(b)</text>
<text x="210" y="790.4" font-size="31.55" font-weight="bold" fill="#0000ff">Reactive Orange 16</text>
<use href="#ball" x="736.3" y="1151.6"/>
<path d="M703,1185.9H768" stroke="#000" stroke-width="2.3" stroke-dasharray="10.4 10.4"/>
<path d="M704.0,1221.5H769" stroke="#0000ff" stroke-width="2.5" stroke-linecap="round" stroke-dasharray="0.9 11.58"/>
<path d="M703,1256.6H768" stroke="#ff0000" stroke-width="2.3" stroke-dasharray="6.5 5.2"/>
<text x="774.9" y="1161.20" font-size="28.35">Experimental</text>
<text x="774.9" y="1196.20" font-size="28.35">Langmuir</text>
<text x="774.9" y="1231.20" font-size="28.35">Freundlich</text>
<text x="774.9" y="1266.20" font-size="28.35">Temkin</text>
<rect x="138" y="0" width="48" height="2.7" fill="#fff"/>
</svg>
</body></html>
